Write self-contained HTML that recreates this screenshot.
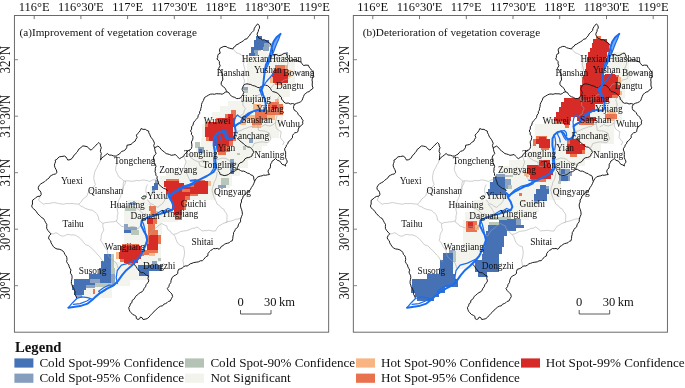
<!DOCTYPE html>
<html><head><meta charset="utf-8"><title>Hot spot analysis of vegetation coverage</title>
<style>html,body{margin:0;padding:0;background:#fff}body{width:685px;height:388px;overflow:hidden}svg{display:block}text{font-family:"Liberation Serif",serif;fill:#111}</style>
</head><body>
<svg width="685" height="388" viewBox="0 0 685 388">
<rect width="685" height="388" fill="#fff"/>
<g>
<g shape-rendering="crispEdges">
<rect x="262.0" y="53.0" width="28.0" height="4.0" fill="#f3f4ee"/>
<rect x="247.0" y="57.0" width="48.0" height="9.0" fill="#f3f4ee"/>
<rect x="246.5" y="66.0" width="48.5" height="18.0" fill="#f3f4ee"/>
<rect x="243.5" y="84.0" width="46.5" height="13.0" fill="#f3f4ee"/>
<rect x="241.0" y="97.0" width="43.0" height="4.0" fill="#f3f4ee"/>
<rect x="228.0" y="101.0" width="55.0" height="5.0" fill="#f3f4ee"/>
<rect x="220.0" y="106.0" width="63.0" height="6.0" fill="#f3f4ee"/>
<rect x="212.0" y="112.0" width="71.0" height="6.0" fill="#f3f4ee"/>
<rect x="204.0" y="118.0" width="79.0" height="6.0" fill="#f3f4ee"/>
<rect x="201.5" y="124.0" width="77.0" height="14.0" fill="#f3f4ee"/>
<rect x="201.0" y="138.0" width="66.0" height="8.0" fill="#f3f4ee"/>
<rect x="196.0" y="146.0" width="66.0" height="6.0" fill="#f3f4ee"/>
<rect x="190.0" y="152.0" width="64.0" height="8.0" fill="#f3f4ee"/>
<rect x="186.0" y="160.0" width="62.0" height="8.0" fill="#f3f4ee"/>
<rect x="183.0" y="168.0" width="57.0" height="8.0" fill="#f3f4ee"/>
<rect x="166.0" y="172.0" width="17.0" height="4.0" fill="#f3f4ee"/>
<rect x="160.0" y="176.0" width="72.0" height="5.0" fill="#f3f4ee"/>
<rect x="158.0" y="181.0" width="74.0" height="5.0" fill="#f3f4ee"/>
<rect x="150.0" y="186.0" width="66.0" height="14.0" fill="#f3f4ee"/>
<rect x="216.0" y="181.0" width="14.0" height="7.0" fill="#f3f4ee"/>
<rect x="128.0" y="200.0" width="62.0" height="6.0" fill="#f3f4ee"/>
<rect x="124.0" y="206.0" width="66.0" height="10.0" fill="#f3f4ee"/>
<rect x="124.0" y="216.0" width="54.0" height="6.0" fill="#f3f4ee"/>
<rect x="124.0" y="222.0" width="38.0" height="14.0" fill="#f3f4ee"/>
<rect x="124.0" y="236.0" width="37.0" height="26.0" fill="#f3f4ee"/>
<rect x="110.0" y="262.0" width="48.0" height="6.0" fill="#f3f4ee"/>
<rect x="112.0" y="268.0" width="38.0" height="12.0" fill="#f3f4ee"/>
<rect x="112.0" y="280.0" width="18.0" height="6.0" fill="#f3f4ee"/>
<rect x="84.0" y="286.0" width="28.0" height="12.0" fill="#f3f4ee"/>
<rect x="256.2" y="36.0" width="5.3" height="3.5" fill="#4672b5"/>
<rect x="253.6" y="39.5" width="14.9" height="3.9" fill="#4672b5"/>
<rect x="253.6" y="43.4" width="10.1" height="3.1" fill="#4672b5"/>
<rect x="263.7" y="43.4" width="5.3" height="3.1" fill="#8ba3c1"/>
<rect x="269.0" y="43.4" width="2.5" height="3.1" fill="#b9c7ba"/>
<rect x="251.4" y="46.5" width="11.8" height="3.0" fill="#4672b5"/>
<rect x="263.2" y="46.5" width="5.8" height="4.0" fill="#8ba3c1"/>
<rect x="251.4" y="49.5" width="6.1" height="3.5" fill="#4672b5"/>
<rect x="257.5" y="49.5" width="3.0" height="3.5" fill="#b9c7ba"/>
<rect x="249.2" y="53.0" width="5.7" height="3.0" fill="#4672b5"/>
<rect x="254.9" y="53.0" width="2.6" height="3.0" fill="#8ba3c1"/>
<rect x="257.5" y="50.5" width="10.5" height="5.5" fill="#f3f4ee"/>
<rect x="254.0" y="49.5" width="3.5" height="3.5" fill="#8ba3c1"/>
<rect x="285.5" y="51.7" width="2.9" height="3.0" fill="#8ba3c1"/>
<rect x="242.9" y="87.0" width="5.1" height="3.0" fill="#8ba3c1"/>
<rect x="244.0" y="90.0" width="4.0" height="3.0" fill="#b9c7ba"/>
<rect x="275.2" y="65.0" width="9.5" height="3.6" fill="#ea7450"/>
<rect x="284.7" y="65.0" width="2.8" height="3.6" fill="#f9b887"/>
<rect x="273.7" y="68.6" width="11.0" height="4.4" fill="#d62b27"/>
<rect x="284.7" y="68.6" width="3.0" height="4.4" fill="#ea7450"/>
<rect x="272.3" y="73.0" width="15.4" height="4.4" fill="#d62b27"/>
<rect x="273.0" y="77.4" width="14.7" height="5.2" fill="#d62b27"/>
<rect x="270.0" y="77.4" width="3.0" height="5.2" fill="#f9b887"/>
<rect x="274.5" y="82.6" width="7.5" height="1.9" fill="#ea7450"/>
<rect x="287.7" y="70.0" width="2.8" height="7.0" fill="#f9b887"/>
<rect x="275.3" y="99.4" width="3.7" height="4.4" fill="#f9b887"/>
<rect x="269.4" y="101.6" width="9.6" height="4.4" fill="#ea7450"/>
<rect x="253.3" y="103.8" width="7.3" height="5.9" fill="#f9b887"/>
<rect x="268.0" y="103.8" width="14.6" height="5.9" fill="#ea7450"/>
<rect x="254.7" y="109.7" width="27.9" height="5.1" fill="#ea7450"/>
<rect x="268.5" y="107.0" width="9.5" height="7.0" fill="#ea7450"/>
<rect x="271.5" y="104.5" width="5.9" height="4.5" fill="#d62b27"/>
<rect x="243.0" y="114.8" width="11.7" height="5.2" fill="#f9b887"/>
<rect x="254.7" y="114.8" width="11.8" height="5.2" fill="#ea7450"/>
<rect x="266.5" y="114.8" width="8.8" height="5.2" fill="#f9b887"/>
<rect x="240.0" y="120.0" width="6.0" height="5.1" fill="#f9b887"/>
<rect x="251.8" y="120.0" width="10.2" height="5.1" fill="#ea7450"/>
<rect x="251.8" y="125.1" width="8.7" height="2.9" fill="#f9b887"/>
<rect x="230.5" y="109.7" width="5.1" height="4.4" fill="#ea7450"/>
<rect x="225.4" y="114.1" width="10.2" height="4.4" fill="#ea7450"/>
<rect x="227.6" y="114.1" width="5.1" height="4.4" fill="#d62b27"/>
<rect x="216.0" y="117.8" width="2.0" height="4.4" fill="#ea7450"/>
<rect x="218.0" y="117.8" width="16.9" height="4.4" fill="#d62b27"/>
<rect x="207.5" y="122.2" width="27.4" height="4.4" fill="#d62b27"/>
<rect x="204.8" y="126.6" width="27.9" height="10.3" fill="#d62b27"/>
<rect x="209.2" y="136.9" width="23.5" height="4.4" fill="#d62b27"/>
<rect x="232.7" y="136.9" width="2.9" height="4.4" fill="#ea7450"/>
<rect x="213.6" y="141.3" width="15.4" height="5.1" fill="#d62b27"/>
<rect x="229.0" y="141.3" width="3.7" height="5.1" fill="#ea7450"/>
<rect x="216.6" y="146.4" width="8.8" height="5.6" fill="#d62b27"/>
<rect x="225.4" y="146.4" width="4.4" height="5.6" fill="#ea7450"/>
<rect x="218.0" y="152.0" width="8.0" height="3.0" fill="#ea7450"/>
<rect x="204.5" y="122.2" width="3.0" height="4.4" fill="#ea7450"/>
<rect x="206.2" y="136.9" width="3.0" height="4.4" fill="#ea7450"/>
<rect x="195.4" y="142.0" width="4.4" height="5.5" fill="#b9c7ba"/>
<rect x="197.6" y="146.7" width="5.9" height="5.9" fill="#8ba3c1"/>
<rect x="199.0" y="149.0" width="3.0" height="3.6" fill="#4672b5"/>
<rect x="249.0" y="138.0" width="4.4" height="5.0" fill="#8ba3c1"/>
<rect x="243.0" y="146.0" width="3.0" height="4.4" fill="#b9c7ba"/>
<rect x="237.3" y="152.6" width="2.9" height="2.2" fill="#b9c7ba"/>
<rect x="230.0" y="159.2" width="4.3" height="14.7" fill="#8ba3c1"/>
<rect x="230.7" y="162.2" width="2.9" height="4.4" fill="#4672b5"/>
<rect x="231.4" y="169.5" width="2.2" height="4.4" fill="#4672b5"/>
<rect x="221.0" y="178.3" width="7.5" height="6.7" fill="#b9c7ba"/>
<rect x="218.2" y="185.0" width="7.3" height="2.9" fill="#8ba3c1"/>
<rect x="166.2" y="179.2" width="12.5" height="4.2" fill="#ea7450"/>
<rect x="190.0" y="179.5" width="15.0" height="2.0" fill="#ea7450"/>
<rect x="193.5" y="181.2" width="14.0" height="6.1" fill="#d62b27"/>
<rect x="163.6" y="183.4" width="20.3" height="3.9" fill="#d62b27"/>
<rect x="164.2" y="181.0" width="14.4" height="2.4" fill="#d62b27"/>
<rect x="189.0" y="184.0" width="4.5" height="3.3" fill="#ea7450"/>
<rect x="165.5" y="187.3" width="42.0" height="6.2" fill="#d62b27"/>
<rect x="182.0" y="188.5" width="8.0" height="3.0" fill="#ea7450"/>
<rect x="169.0" y="193.5" width="21.0" height="2.5" fill="#d62b27"/>
<rect x="190.0" y="193.5" width="8.0" height="2.5" fill="#ea7450"/>
<rect x="170.0" y="196.0" width="14.5" height="3.5" fill="#d62b27"/>
<rect x="184.5" y="196.0" width="5.5" height="3.5" fill="#ea7450"/>
<rect x="171.0" y="199.5" width="12.8" height="3.2" fill="#d62b27"/>
<rect x="183.8" y="199.5" width="3.2" height="3.2" fill="#ea7450"/>
<rect x="172.0" y="202.7" width="11.5" height="7.5" fill="#d62b27"/>
<rect x="183.5" y="202.7" width="2.5" height="7.5" fill="#ea7450"/>
<rect x="173.7" y="210.2" width="8.3" height="5.1" fill="#d62b27"/>
<rect x="174.5" y="215.3" width="7.5" height="5.0" fill="#ea7450"/>
<rect x="208.0" y="181.0" width="2.5" height="5.0" fill="#f9b887"/>
<rect x="148.9" y="206.0" width="6.6" height="5.2" fill="#ea7450"/>
<rect x="149.6" y="211.2" width="8.1" height="4.4" fill="#f9b887"/>
<rect x="151.0" y="211.2" width="5.0" height="4.4" fill="#ea7450"/>
<rect x="147.4" y="217.8" width="5.9" height="6.6" fill="#d62b27"/>
<rect x="153.3" y="217.8" width="3.7" height="6.6" fill="#ea7450"/>
<rect x="148.1" y="224.4" width="6.6" height="5.8" fill="#ea7450"/>
<rect x="148.1" y="230.2" width="9.6" height="5.2" fill="#ea7450"/>
<rect x="148.9" y="235.4" width="9.5" height="8.1" fill="#d62b27"/>
<rect x="146.7" y="235.4" width="2.2" height="8.1" fill="#ea7450"/>
<rect x="158.4" y="235.4" width="2.2" height="8.1" fill="#ea7450"/>
<rect x="147.4" y="243.5" width="10.6" height="6.5" fill="#d62b27"/>
<rect x="144.0" y="250.0" width="7.0" height="4.5" fill="#ea7450"/>
<rect x="151.0" y="250.0" width="6.5" height="3.0" fill="#ea7450"/>
<rect x="149.0" y="253.0" width="6.0" height="3.0" fill="#f9b887"/>
<rect x="122.0" y="244.3" width="17.0" height="2.2" fill="#ea7450"/>
<rect x="119.5" y="246.3" width="21.5" height="5.5" fill="#d62b27"/>
<rect x="118.7" y="251.8" width="22.3" height="6.7" fill="#d62b27"/>
<rect x="116.0" y="251.8" width="2.7" height="6.7" fill="#f9b887"/>
<rect x="124.0" y="258.5" width="14.0" height="4.0" fill="#d62b27"/>
<rect x="120.0" y="258.5" width="4.0" height="3.5" fill="#ea7450"/>
<rect x="128.0" y="262.5" width="7.0" height="2.0" fill="#ea7450"/>
<rect x="141.0" y="251.8" width="2.5" height="4.2" fill="#ea7450"/>
<rect x="153.5" y="182.6" width="4.3" height="3.4" fill="#4672b5"/>
<rect x="151.9" y="186.0" width="5.9" height="3.5" fill="#4672b5"/>
<rect x="151.9" y="189.5" width="3.1" height="3.1" fill="#8ba3c1"/>
<rect x="155.0" y="179.5" width="3.0" height="3.1" fill="#8ba3c1"/>
<rect x="129.8" y="201.6" width="5.8" height="3.7" fill="#8ba3c1"/>
<rect x="125.4" y="207.5" width="11.0" height="3.7" fill="#b9c7ba"/>
<rect x="123.9" y="224.4" width="3.7" height="5.1" fill="#8ba3c1"/>
<rect x="127.6" y="226.6" width="9.5" height="6.6" fill="#8ba3c1"/>
<rect x="123.9" y="229.5" width="7.1" height="3.7" fill="#4672b5"/>
<rect x="130.5" y="229.5" width="8.1" height="5.9" fill="#b9c7ba"/>
<rect x="103.6" y="254.3" width="7.6" height="6.7" fill="#4672b5"/>
<rect x="111.2" y="254.3" width="2.8" height="6.7" fill="#b9c7ba"/>
<rect x="101.1" y="261.0" width="10.1" height="6.7" fill="#4672b5"/>
<rect x="111.2" y="261.0" width="2.8" height="6.7" fill="#b9c7ba"/>
<rect x="98.6" y="267.7" width="12.6" height="6.7" fill="#4672b5"/>
<rect x="111.2" y="267.7" width="4.2" height="6.7" fill="#b9c7ba"/>
<rect x="88.6" y="274.4" width="25.1" height="5.0" fill="#4672b5"/>
<rect x="73.5" y="279.4" width="40.2" height="5.9" fill="#4672b5"/>
<rect x="90.2" y="279.4" width="10.1" height="3.1" fill="#8ba3c1"/>
<rect x="110.5" y="274.4" width="4.5" height="10.9" fill="#8ba3c1"/>
<rect x="71.8" y="285.3" width="14.2" height="5.0" fill="#4672b5"/>
<rect x="86.0" y="285.3" width="9.0" height="2.7" fill="#8ba3c1"/>
<rect x="74.3" y="290.3" width="9.2" height="5.0" fill="#4672b5"/>
<rect x="76.0" y="295.3" width="6.0" height="2.7" fill="#8ba3c1"/>
<rect x="95.0" y="282.5" width="17.0" height="4.5" fill="#b9c7ba"/>
<rect x="92.6" y="288.5" width="2.4" height="5.0" fill="#ea7450"/>
<rect x="152.3" y="261.0" width="5.0" height="4.2" fill="#8ba3c1"/>
<rect x="138.0" y="265.2" width="23.5" height="5.8" fill="#4672b5"/>
<rect x="138.9" y="271.0" width="10.0" height="5.0" fill="#4672b5"/>
<rect x="158.0" y="258.0" width="3.0" height="3.0" fill="#b9c7ba"/>
</g>
<polyline points="100.5,160.1 99.6,162.8 98.0,165.2 96.9,167.7 95.5,170.1 94.6,172.7 94.0,175.6 93.8,178.6 94.4,181.6 95.4,184.5 93.8,186.8 92.0,189.0 88.7,191.7 87.6,193.7 87.1,195.9 85.0,197.5 82.9,199.2 81.1,202.0 78.7,204.2" fill="none" stroke="#a6a6a6" stroke-width="0.55"/>
<polyline points="116.4,156.0 116.6,158.5 117.2,161.0 117.2,163.5 116.2,165.6 115.7,167.9 115.6,170.2 116.7,172.4 117.7,174.7 118.9,176.9 121.6,178.8 123.9,181.1 126.4,180.8 128.9,180.9 131.5,181.3 134.0,181.1 136.6,180.4 139.4,180.8 142.0,180.0 144.7,180.1 147.4,180.7 150.0,181.5 152.2,180.1 154.8,179.7 157.0,178.4" fill="none" stroke="#a6a6a6" stroke-width="0.55"/>
<polyline points="40.1,195.9 39.6,198.1 38.4,200.1 40.9,202.2 43.5,204.2 45.9,203.5 48.5,203.6 51.0,203.1 53.5,202.6 56.0,202.9 58.5,203.5 61.1,203.9 63.6,204.2 66.4,203.5 69.2,203.7 72.0,203.4 74.2,203.8 76.5,204.0 78.7,204.2" fill="none" stroke="#a6a6a6" stroke-width="0.55"/>
<polyline points="78.7,204.2 80.7,206.0 83.2,207.0 85.4,208.4 87.6,209.2 89.8,209.8 92.1,210.1 94.8,212.0 97.1,214.3 98.4,217.1 98.8,220.2 100.8,221.9 103.0,223.5 105.4,222.6 108.0,222.3 110.5,221.9 113.5,221.8 116.4,221.0 117.3,218.6 117.2,215.9 118.1,213.5 117.4,210.7 117.2,207.9 117.2,205.1 118.4,203.1 118.5,200.7 119.5,198.7 120.6,196.7 121.1,194.1 122.3,191.7 122.3,189.0 123.1,186.4 123.2,183.7 123.9,181.1" fill="none" stroke="#a6a6a6" stroke-width="0.55"/>
<polyline points="103.0,223.5 102.8,225.8 103.2,228.0 103.8,230.2 102.3,232.6 101.3,235.3 101.2,237.8 100.5,240.3 102.3,242.7 103.8,245.3 105.3,248.0 107.2,250.4" fill="none" stroke="#a6a6a6" stroke-width="0.55"/>
<polyline points="51.0,233.9 53.6,233.7 56.0,232.7 58.0,233.7 59.8,235.2 61.9,236.1 64.2,236.0 66.3,234.8 68.6,234.4 70.8,235.0 73.1,234.8 75.3,235.3 78.0,236.7 80.4,238.6 82.6,241.0 84.5,243.6 86.3,245.0 88.6,245.6 90.4,247.0 92.0,248.8 93.8,250.2 95.4,252.0 98.0,255.0 99.8,256.8 101.0,259.0 104.0,262.0" fill="none" stroke="#a6a6a6" stroke-width="0.55"/>
<polyline points="161.7,223.5 164.2,224.9 166.8,226.0 167.2,228.2 168.4,230.2 170.4,231.2 171.5,233.3 173.5,234.4 176.1,233.9 178.5,232.7 180.9,231.4 183.5,231.0 185.8,230.8 188.0,230.2 190.2,229.4 192.3,228.3 194.8,228.2 196.9,226.9 199.5,228.8 202.0,231.0 204.2,230.7 206.5,230.6 208.7,230.2 210.9,230.7 213.1,231.0 215.4,231.0 216.9,228.4 218.7,226.0 220.9,224.9 223.0,223.5 225.4,222.7 228.1,221.6 231.0,221.0 233.8,220.1 235.9,219.2 238.2,218.9 240.5,218.5" fill="none" stroke="#a6a6a6" stroke-width="0.55"/>
<polyline points="217.0,171.8 216.9,174.9 216.2,178.0 215.3,180.3 214.0,182.5 213.6,185.0 212.6,187.5 212.0,190.0 212.8,193.0 213.5,196.0 214.5,198.4 216.0,201.2 217.1,204.2 219.5,205.6 221.3,207.9 223.8,209.2 224.7,211.3 226.2,213.0 227.1,215.1 227.0,217.3 226.9,219.6 227.1,221.8" fill="none" stroke="#a6a6a6" stroke-width="0.55"/>
<polyline points="173.5,234.4 175.1,236.7 176.0,239.4 177.0,242.0 178.6,244.2 180.9,245.8 183.6,246.7 184.0,248.9 184.4,251.1 184.5,253.4 184.2,255.7 183.8,258.0 182.8,260.1 183.3,262.3 183.6,264.5 183.6,266.8" fill="none" stroke="#a6a6a6" stroke-width="0.55"/>
<polyline points="232.8,49.0 234.6,50.6 236.0,52.5 238.5,53.5 241.0,54.5 242.7,56.3 244.5,58.0 244.4,61.1 243.5,64.0 244.2,67.0 245.0,70.0 243.6,72.9 243.0,76.0 243.7,78.5 244.5,81.0 243.7,85.1" fill="none" stroke="#a6a6a6" stroke-width="0.55"/>
<polyline points="272.9,54.8 275.0,58.5 278.0,58.8 281.0,58.2 283.7,57.7 286.5,57.4" fill="none" stroke="#a6a6a6" stroke-width="0.55"/>
<polyline points="287.6,57.6 287.5,60.3 288.0,63.0 287.3,65.6 286.0,68.0 287.1,70.5 289.0,72.5 292.0,73.0 295.0,73.5 297.3,72.9 299.7,72.6 302.0,72.0 305.1,72.4 308.0,73.5 310.6,74.0 313.1,75.0" fill="none" stroke="#a6a6a6" stroke-width="0.55"/>
<polyline points="270.5,88.6 272.2,86.3 274.0,84.0 276.5,83.9 279.0,83.5 281.6,81.8 284.0,80.0 286.6,79.4 289.0,78.5 289.4,75.5 289.0,72.5" fill="none" stroke="#a6a6a6" stroke-width="0.55"/>
<polyline points="241.5,96.5 242.0,100.0 242.9,102.5 242.9,105.2 245.4,108.5 244.2,110.9 243.7,113.6 241.7,114.9 240.0,116.5" fill="none" stroke="#a6a6a6" stroke-width="0.55"/>
<polyline points="262.3,93.8 260.2,94.6 258.0,95.0 255.8,97.3 253.0,99.0 249.9,99.8 247.0,101.0 244.4,100.8 242.0,100.0" fill="none" stroke="#a6a6a6" stroke-width="0.55"/>
<polyline points="280.0,96.0 278.2,97.8 277.0,100.0 278.0,102.4 278.5,105.0 277.6,107.7 276.0,110.0 276.9,112.9 277.0,116.0 276.3,118.2 275.7,120.5 275.5,122.9 275.7,126.0 276.8,128.8 278.9,130.4 281.2,131.7 280.7,134.6 280.4,137.6 282.1,139.9 284.1,142.0 282.6,145.0" fill="none" stroke="#a6a6a6" stroke-width="0.55"/>
<polyline points="276.0,110.0 272.9,110.2 270.0,111.0 266.0,109.5" fill="none" stroke="#a6a6a6" stroke-width="0.55"/>
<polyline points="275.5,122.9 272.9,124.7 270.0,126.0 267.4,125.6 265.0,124.5 263.1,125.8 261.0,127.0" fill="none" stroke="#a6a6a6" stroke-width="0.55"/>
<polyline points="236.5,131.5 239.3,131.0 242.0,130.0 244.4,128.7 247.0,128.0 249.6,126.9 252.5,126.5 255.0,124.9 257.7,123.6 257.7,125.8 258.4,128.0 258.4,130.2 260.6,130.8 262.8,130.8 265.0,131.0 267.2,132.1 269.4,133.2 270.0,136.1 270.9,139.0 269.4,140.8 268.0,142.7 265.5,142.4 263.1,141.9 260.6,142.0 258.4,142.3 256.2,143.0 254.0,143.5 253.0,146.2 251.2,148.5" fill="none" stroke="#a6a6a6" stroke-width="0.55"/>
<polyline points="199.0,162.0 201.2,161.4 203.0,160.0 205.2,161.2 207.0,163.0 205.7,164.9 205.0,167.0 202.5,166.5 200.0,166.0 199.0,162.0" fill="none" stroke="#a6a6a6" stroke-width="0.55"/>
<polyline points="216.2,160.0 219.1,159.0 222.0,158.0 225.1,158.4 228.0,159.5 230.2,161.6 233.0,163.0 235.8,163.8 238.6,164.4" fill="none" stroke="#a6a6a6" stroke-width="0.55"/>
<polyline points="186.8,152.6 188.7,154.6 190.0,157.0 192.5,158.8 195.0,160.5 199.0,162.0" fill="none" stroke="#a6a6a6" stroke-width="0.55"/>
<polyline points="183.8,156.2 184.9,159.1 186.0,162.0 184.9,165.0 184.0,168.0 185.2,169.9 185.6,172.2 187.0,174.0 187.9,176.2 188.9,178.3 190.2,180.3" fill="none" stroke="#a6a6a6" stroke-width="0.55"/>
<polyline points="125.6,181.0 125.0,183.9 123.5,186.5 123.3,189.2 122.3,191.7" fill="none" stroke="#a6a6a6" stroke-width="0.55"/>
<polyline points="147.5,184.5 146.2,187.4 145.8,190.6 146.2,192.8 146.7,195.0 145.1,196.6 143.2,197.7" fill="none" stroke="#a6a6a6" stroke-width="0.55"/>
<polyline points="147.5,199.4 148.9,201.8 151.0,203.8 153.5,204.7 155.5,206.4 158.0,207.3 160.1,205.4 162.4,203.8 163.9,201.7 165.0,199.4 165.8,196.8 166.8,194.2" fill="none" stroke="#a6a6a6" stroke-width="0.55"/>
<polyline points="149.3,203.8 151.0,206.0 152.8,208.2 154.0,210.4 155.4,212.5 152.8,216.0" fill="none" stroke="#a6a6a6" stroke-width="0.55"/>
<polyline points="117.2,205.1 119.6,205.3 121.7,206.5 124.0,207.0 126.3,206.7 128.6,205.9 131.0,206.0 133.5,206.6 135.5,208.4 138.0,209.0 139.7,210.4 141.5,211.9 143.0,213.5 142.4,215.7 141.8,218.0 141.8,220.3" fill="none" stroke="#a6a6a6" stroke-width="0.55"/>
<polyline points="116.4,221.0 117.6,223.0 119.7,224.2 121.0,226.0 124.0,227.0 127.0,228.0 129.9,226.9 133.0,226.5 135.7,227.3 138.0,229.0 139.2,226.9 141.0,225.3" fill="none" stroke="#a6a6a6" stroke-width="0.55"/>
<polyline points="107.2,250.4 107.8,253.2 108.5,256.0 110.3,258.2 112.5,260.0 116.0,262.5 117.2,265.2 118.0,268.0" fill="none" stroke="#a6a6a6" stroke-width="0.55"/>
<polyline points="161.7,223.5 159.8,224.7 158.0,226.0 155.6,228.2 153.0,230.0 151.5,231.9 150.1,233.8 149.0,236.0 146.0,235.0" fill="none" stroke="#a6a6a6" stroke-width="0.55"/>
<polyline points="227.1,221.8 225.4,222.7" fill="none" stroke="#a6a6a6" stroke-width="0.55"/>
<polyline points="257.6,23.9 259.3,25.5 259.6,28.1 258.5,29.6 258.3,31.4 257.4,33.0 257.1,34.8 258.0,36.4 258.8,38.1 260.7,38.6 262.2,39.8 264.7,39.8 267.2,41.5 269.7,43.1 271.4,45.7 271.8,47.6 272.3,49.5 272.6,51.3 272.3,53.1 272.9,54.8 276.0,54.4 278.6,55.7 281.2,55.2 283.9,53.5 285.6,53.0 286.9,54.8 287.6,57.6 289.0,59.4 290.0,61.4 291.5,60.5 293.0,59.6 294.7,59.9 296.5,59.9 298.3,61.4 300.6,61.8 302.0,63.7 303.5,65.5 306.0,65.1 308.5,65.3 309.1,67.1 310.4,68.6 311.6,70.3 313.1,71.7 313.5,74.0 313.2,76.4 312.4,78.2 312.0,80.0 312.4,82.0 312.2,84.0 312.3,86.0 313.1,87.9 312.1,89.3 310.4,90.1 309.4,91.6 307.4,92.1 305.9,93.3 304.3,94.5 303.6,96.4 302.8,98.2 302.2,100.3 300.6,101.8 298.7,102.7 296.6,103.3 294.7,104.3 293.6,106.3 293.6,108.5 294.4,110.3 296.2,111.3 297.5,112.7 298.3,114.7 299.9,116.1 301.3,117.3 301.8,119.2 303.2,120.3 302.6,121.9 302.8,123.8 301.6,125.3 299.2,127.0 298.3,129.2 298.0,131.5 296.6,132.5 294.8,132.8 293.5,134.0 292.5,135.6 292.5,137.8 291.0,139.2 289.9,140.7 288.3,141.8 287.8,143.8 286.4,145.1 286.1,146.8 284.8,148.3 284.7,150.1 285.6,152.1 285.6,154.3 285.6,157.7 286.3,159.4 287.2,161.0 287.0,162.8 285.5,164.2 285.6,166.1 284.1,164.9 282.2,164.4 280.9,162.7 279.7,161.0 277.3,160.3 275.5,158.5 274.0,160.0 272.2,161.0 271.6,162.7 270.5,164.2 270.5,166.1 270.2,168.0 268.8,169.4 268.0,171.1 268.5,172.9 269.6,174.5 267.5,174.8 265.5,175.3 263.7,175.1 262.1,175.8 260.4,176.1 258.0,176.8 256.2,178.6 255.2,180.2 254.4,181.9 253.7,183.7 252.7,185.7 251.4,187.5 250.4,189.5 249.2,190.8 247.7,191.8 246.5,193.0 245.0,194.7 243.2,196.0 242.7,198.2 241.4,200.0 241.5,202.0 240.6,203.9 240.5,205.9 240.9,207.9 241.7,209.8 242.2,211.8 242.4,214.4 241.4,216.8 240.6,219.2 240.5,221.8 239.2,223.3 238.3,224.9 238.0,226.9 236.5,228.0 235.4,229.3 234.7,231.0 233.6,232.5 233.5,234.4 233.0,236.1 232.8,238.5 232.3,240.8 230.6,241.3 229.3,242.7 227.6,243.2 225.9,243.6 224.3,244.4 223.0,245.6 221.3,246.4 220.4,248.0 219.2,249.3 217.4,248.4 215.5,248.7 213.6,248.5 212.3,249.6 210.7,250.4 209.5,251.6 208.0,253.5 207.8,255.9 206.1,256.6 204.9,257.9 203.8,259.3 202.4,260.7 200.3,260.8 198.7,261.8 196.2,262.2 193.7,262.6 192.0,263.3 190.2,263.8 188.7,265.1 187.1,266.0 185.2,265.9 183.6,266.8 182.2,268.1 180.4,268.8 178.6,269.3 177.8,271.3 177.8,273.5 175.8,275.0 173.6,276.0 172.0,277.9 171.1,280.2 170.8,282.5 169.4,284.4 168.8,286.7 167.3,288.5 168.5,290.6 170.2,292.3 172.0,294.1 172.6,296.6 171.3,298.8 170.2,301.0 168.4,301.4 167.1,302.7 165.6,303.6 163.8,304.2 162.6,305.9 160.6,306.1 158.8,307.2 157.2,308.6 155.4,310.1 153.9,311.9 152.1,313.5 150.5,315.3 149.0,317.1 147.2,318.6 145.1,319.2 143.0,319.5 142.2,317.8 140.5,317.0 139.7,318.7 138.0,319.5 136.3,318.5 136.2,316.3 134.6,315.3 132.6,314.4 131.2,312.8 129.9,311.3 129.2,309.6 128.7,307.7 129.9,305.8 130.4,303.6 132.0,302.6 132.1,300.4 133.8,299.4 134.8,297.9 135.6,296.3 137.1,295.2 138.6,293.8 140.2,292.6 142.1,291.8 143.4,290.2 144.2,288.3 145.5,286.8 146.2,284.6 147.7,282.9 148.8,280.9 148.0,278.4 148.5,275.9 146.5,275.3 145.0,273.8 143.4,272.6 141.4,272.7 139.7,271.6 138.5,270.0 137.2,268.5 136.3,266.9 135.3,265.4 133.8,264.3" fill="none" stroke="#1c1c1c" stroke-width="1.0" stroke-linejoin="round"/>
<polyline points="76.8,298.5 75.9,296.0 74.8,294.2 75.2,291.9 74.2,290.1 73.8,288.3 72.5,286.9 72.1,285.1 71.4,283.4 71.4,281.3 71.8,279.3 72.1,277.3 71.8,275.2 70.8,273.7 70.3,272.0 71.0,270.1 70.1,268.5 69.2,266.9 68.8,265.0 67.6,263.5 66.6,261.6 67.0,259.6 66.8,257.6 66.2,255.8 64.7,254.4 64.2,252.6 62.9,251.0 61.2,249.9 59.2,249.2 57.0,249.0 55.1,248.1 53.4,246.7 52.2,244.7 51.0,242.8 50.7,240.9 49.2,239.5 48.5,237.8 49.4,235.6 51.0,233.9 49.3,232.1 47.7,230.2 46.7,228.4 46.7,226.4 46.8,224.4 45.6,222.5 44.6,220.5 43.5,218.5 41.9,217.7 40.5,216.5 39.3,215.1 37.6,213.7 36.5,211.8 35.1,210.1 33.7,208.9 32.3,207.7 31.7,205.9 32.5,204.0 32.4,202.0 32.6,200.1 34.4,199.0 35.9,197.5 37.9,196.4 40.1,196.2 41.2,194.7 41.0,192.8 40.1,190.8 38.4,189.5 38.3,187.3 39.3,185.3 40.8,183.9 42.6,182.8 44.5,181.8 46.0,180.3 47.6,179.1 49.2,177.9 50.2,176.1 51.8,175.2 53.5,174.4 55.4,174.0 56.9,172.7 56.7,171.0 56.0,169.4 54.9,167.4 54.4,165.2 54.8,163.5 55.5,161.9 55.2,160.1 56.9,159.4 58.0,157.9 59.4,156.8 61.9,156.5 64.4,156.0 66.0,157.0 66.9,158.5 67.8,160.1 70.0,159.7 72.0,158.5 73.0,157.0 73.8,155.4 75.3,154.3 76.5,152.6 77.8,151.1 78.7,149.2 80.3,148.3 81.4,146.9 82.9,145.9 85.0,146.2 87.1,146.7 88.5,147.8 89.6,149.3 91.2,150.1 92.9,148.4 94.6,146.7 95.9,145.2 97.4,143.9 98.8,142.5 100.2,143.9 100.5,145.9 101.3,147.7 100.6,149.7 100.4,151.6 101.3,153.4 100.9,155.6 100.9,157.9 100.5,160.1 101.7,158.0 103.6,156.6 105.5,155.1 107.4,153.5 109.2,155.0 111.6,155.2 113.8,156.0 116.2,156.1 117.6,155.0 119.3,154.2 120.4,152.7 121.8,151.4 123.7,150.8 125.3,149.8 126.7,147.7 127.0,145.2 129.0,144.9 131.0,144.4 132.4,143.3 133.6,141.9 135.2,141.1 135.9,139.2 137.1,137.5 136.4,135.2 137.7,133.5 139.2,132.1 140.3,130.4 141.1,128.5 143.1,129.4 145.3,129.3 146.8,130.4 148.6,131.0 148.8,132.8 149.7,134.3 150.3,136.0 151.3,137.7 152.6,139.3 153.6,141.1 154.5,143.3 153.7,145.6 154.5,147.8 156.2,147.0 157.8,146.1 159.8,147.5 161.2,149.5 162.9,150.9 164.5,152.2 166.2,153.6 167.9,154.0 169.6,154.5 171.2,155.3 173.3,155.0 175.4,154.5 176.7,156.0 178.1,157.4 179.6,158.7 181.7,157.4 183.8,156.2 184.4,154.4 185.8,153.2 187.2,152.0 188.3,150.5 190.1,149.8 191.4,148.6 191.9,146.4 191.8,144.1 191.4,141.9 192.6,139.9 193.0,137.7 192.8,135.9 191.4,134.5 191.6,132.5 190.5,131.0 191.6,129.1 191.6,126.8 193.0,125.1 193.5,122.8 194.7,120.9 196.4,119.3 197.8,117.5 198.3,115.2 199.7,113.4 199.6,111.6 200.7,110.1 200.8,108.3 201.4,106.7 201.5,104.4 202.3,102.4 203.4,100.5 204.5,97.5 206.6,96.3 208.7,95.0 210.5,94.2 212.4,94.0 214.4,94.3 216.2,93.7 218.2,93.8 220.2,93.8 222.1,94.2 223.8,93.4 225.2,92.1 227.1,91.9 226.1,90.2 225.3,88.4 223.8,87.1 222.2,85.9 221.1,84.2 221.4,81.9 222.8,80.0 222.6,76.7 222.6,74.2 221.5,72.0 220.1,70.1 218.6,68.3 220.2,65.8 219.4,63.8 219.4,61.6 218.3,60.2 216.9,59.1 217.7,57.5 217.7,55.7 218.5,54.0 220.2,53.2 219.4,49.9 220.2,48.1 221.9,47.3 223.9,46.4 226.1,46.5 227.7,47.6 229.5,48.2 232.8,49.0 233.6,47.3 235.3,46.4 236.2,44.8 238.0,44.2 239.5,43.1 241.6,41.9 243.7,40.6 244.9,39.2 246.9,38.9 247.9,37.3 249.5,35.8 250.4,33.9 252.1,32.3 253.8,30.6 254.3,28.4 255.5,26.4 257.6,23.9" fill="none" stroke="#1c1c1c" stroke-width="1.0" stroke-linejoin="round"/>
<polyline points="294.7,104.3 292.5,103.5 290.3,104.0 288.2,103.0 285.9,103.3 284.0,102.3 283.0,100.4 281.5,99.3 281.4,97.2 280.0,96.0 278.8,94.3 277.1,93.0 275.0,92.1 272.7,91.6 271.4,90.3 270.5,88.6 269.2,87.0 267.6,85.7 265.8,85.2 263.9,85.0 261.7,86.2 259.6,87.6 257.8,87.5 256.2,86.6 254.6,85.9 252.6,85.5 250.8,84.5 248.8,84.2 247.0,83.8 245.3,84.2 243.7,85.1 242.8,87.1 242.0,89.2 242.9,90.9 243.7,92.6 242.9,94.7 241.5,96.5 240.5,98.0 238.7,98.5 236.6,98.6 234.8,97.4 232.8,96.8 231.2,95.8 229.8,94.5 228.9,92.7 227.1,91.9" fill="none" stroke="#1c1c1c" stroke-width="1.0" stroke-linejoin="round"/>
<polyline points="237.0,138.4 238.6,139.3 239.7,140.7 241.1,141.8 242.9,143.1 244.4,144.7 246.2,146.0 247.8,147.0 249.8,147.1 251.2,148.5 253.0,150.3 253.7,152.7 252.4,154.1 252.0,156.0 250.4,156.9 248.8,157.5 247.0,157.7 244.9,158.9 243.7,161.0 242.0,162.2 240.0,162.9 238.6,164.4 238.1,166.1 237.3,167.7 237.0,169.4 238.8,169.4 240.3,170.4 241.9,171.2 243.7,171.1 245.6,172.0 247.4,173.1 249.5,173.6 250.7,174.9 252.7,175.4 253.7,177.0 253.8,179.2 254.6,181.2" fill="none" stroke="#1c1c1c" stroke-width="1.0" stroke-linejoin="round"/>
<polyline points="237.0,169.4 235.5,170.6 233.8,171.6 231.9,171.9 230.0,173.2 228.3,174.6 226.1,175.3 224.1,175.6 222.1,174.9 220.2,174.5 219.5,172.1 217.7,170.3" fill="none" stroke="#1c1c1c" stroke-width="1.0" stroke-linejoin="round"/>
<polyline points="154.5,147.8 154.9,149.8 155.3,151.8 156.2,153.6 154.6,155.0 153.6,157.0 153.4,159.0 154.1,160.8 154.3,162.8 155.3,164.5 156.0,166.3 155.3,168.2 155.3,170.0 155.0,171.8 155.8,173.4 155.8,175.2 157.2,176.6 157.0,178.4 157.6,180.3 158.4,182.2 158.6,184.2 160.2,185.6 161.9,187.1 163.6,188.4 166.1,189.1 167.8,191.0" fill="none" stroke="#1c1c1c" stroke-width="1.0" stroke-linejoin="round"/>
<polyline points="141.5,197.8 143.0,196.2 145.5,195.9 146.3,197.2 144.5,198.8 142.5,199.0 141.5,197.8" fill="none" stroke="#1c1c1c" stroke-width="1.0" stroke-linejoin="round"/>
<polygon points="280.5,33.9 276.5,37.2 273.5,41.8 271.7,47.5 270.4,53.6 268.5,59.8 266.0,64.5 265.0,69.0 265.8,69.5 268.0,65.0 269.8,60.5 271.6,56.3 273.5,51.9 275.2,47.5 277.0,43.1 278.9,38.8 280.5,33.9" fill="#1a6df0" fill-opacity="0.6"/>
<polyline points="280.5,33.9 276.5,37.2 273.5,41.8 271.7,47.5 270.4,53.6 268.5,59.8 266.0,64.5 265.0,69.0 264.0,77.5 263.0,86.3 261.6,90.0 263.2,95.0 264.8,99.4 265.7,103.8 265.7,108.1 264.3,110.6 261.0,110.4 258.3,109.8 253.0,111.4 248.6,113.4 245.1,116.0 242.5,118.3 240.9,122.4 237.4,124.2 234.8,126.4 235.6,130.8 235.2,135.1 233.0,138.2 229.5,139.5 226.9,136.9 225.1,133.4 222.5,131.2 219.0,132.1 215.5,135.1 213.8,138.6 213.7,145.3 214.5,150.0 215.3,155.0 215.3,160.1 216.2,167.7 213.6,171.9 206.9,176.0 198.6,180.2 190.2,184.4 181.8,188.6 177.1,191.0 172.0,194.3 169.2,197.5 172.0,201.9 173.7,206.9 172.0,210.2 167.0,211.9 160.3,213.9 153.6,215.6 146.9,217.8 141.8,220.3 141.0,225.3 143.5,230.4 146.0,235.0 147.2,240.0 145.6,245.1 143.0,250.9 140.5,256.0 136.3,261.0 131.3,266.0 126.3,270.2 122.1,275.2 117.9,281.1 113.7,285.3 107.0,288.6 100.3,292.8 95.3,297.0 92.7,299.4 87.7,303.6 80.1,306.1 73.4,306.9 68.4,307.7" fill="none" stroke="#1a6df0" stroke-width="2.0" stroke-linejoin="round" stroke-linecap="round"/>
<polyline points="280.5,33.9 278.9,38.8 277.0,43.1 275.2,47.5 273.5,51.9 271.6,56.3 269.8,60.5 268.0,65.0 265.8,69.5" fill="none" stroke="#1a6df0" stroke-width="1.25" stroke-linejoin="round" stroke-linecap="round"/>
<polyline points="269.0,60.0 268.0,64.0" fill="none" stroke="#1a6df0" stroke-width="1.25" stroke-linejoin="round" stroke-linecap="round"/>
<polyline points="273.5,73.1 270.0,77.5 266.5,81.5 263.6,85.5" fill="none" stroke="#1a6df0" stroke-width="1.25" stroke-linejoin="round" stroke-linecap="round"/>
<polyline points="263.0,86.3 260.2,87.5 259.6,90.5 262.0,92.0" fill="none" stroke="#1a6df0" stroke-width="1.25" stroke-linejoin="round" stroke-linecap="round"/>
<polyline points="261.7,87.2 260.2,91.0 262.0,96.0" fill="none" stroke="#1a6df0" stroke-width="1.25" stroke-linejoin="round" stroke-linecap="round"/>
<polyline points="242.5,118.3 239.6,116.8 237.4,115.0 235.2,117.6 234.3,122.0 234.8,126.4" fill="none" stroke="#1a6df0" stroke-width="1.25" stroke-linejoin="round" stroke-linecap="round"/>
<polyline points="247.9,115.4 244.4,119.4 240.9,122.4 237.4,124.2 234.8,125.5" fill="none" stroke="#1a6df0" stroke-width="1.25" stroke-linejoin="round" stroke-linecap="round"/>
<polyline points="252.3,111.9 247.9,115.4" fill="none" stroke="#1a6df0" stroke-width="1.25" stroke-linejoin="round" stroke-linecap="round"/>
<polyline points="222.5,131.2 223.8,134.3 225.6,137.8 227.5,140.0" fill="none" stroke="#1a6df0" stroke-width="1.25" stroke-linejoin="round" stroke-linecap="round"/>
<polyline points="219.0,132.1 219.0,134.5 220.8,138.2 221.6,142.0" fill="none" stroke="#1a6df0" stroke-width="1.25" stroke-linejoin="round" stroke-linecap="round"/>
<polyline points="215.5,135.1 216.5,138.5 217.0,143.0 216.0,150.0" fill="none" stroke="#1a6df0" stroke-width="1.25" stroke-linejoin="round" stroke-linecap="round"/>
<polyline points="222.5,131.2 225.5,130.5 227.5,132.5 228.0,136.0" fill="none" stroke="#1a6df0" stroke-width="1.25" stroke-linejoin="round" stroke-linecap="round"/>
<polyline points="215.3,153.4 213.8,160.0 214.6,167.0 211.0,172.5" fill="none" stroke="#1a6df0" stroke-width="1.25" stroke-linejoin="round" stroke-linecap="round"/>
<polyline points="198.6,180.2 190.2,180.3 196.0,179.9 194.4,183.6 189.3,186.1 184.0,186.5" fill="none" stroke="#1a6df0" stroke-width="1.25" stroke-linejoin="round" stroke-linecap="round"/>
<polyline points="190.2,184.4 183.0,186.0 176.0,190.0 168.7,196.8 167.8,192.6 170.0,195.0" fill="none" stroke="#1a6df0" stroke-width="1.25" stroke-linejoin="round" stroke-linecap="round"/>
<polyline points="172.0,210.2 168.0,208.5 164.0,211.0 160.3,213.9" fill="none" stroke="#1a6df0" stroke-width="1.25" stroke-linejoin="round" stroke-linecap="round"/>
<polyline points="167.0,211.9 162.0,210.5 157.0,213.5 153.6,215.6" fill="none" stroke="#1a6df0" stroke-width="1.25" stroke-linejoin="round" stroke-linecap="round"/>
<polyline points="141.8,220.3 143.5,224.0 144.8,229.0 146.0,235.0" fill="none" stroke="#1a6df0" stroke-width="1.25" stroke-linejoin="round" stroke-linecap="round"/>
<polyline points="137.5,259.0 128.7,263.1 121.4,265.2 117.3,270.5 116.2,277.5 117.3,283.5" fill="none" stroke="#1a6df0" stroke-width="1.25" stroke-linejoin="round" stroke-linecap="round"/>
<polyline points="113.7,285.3 109.0,285.0 103.6,287.8 98.6,291.2 100.3,292.8" fill="none" stroke="#1a6df0" stroke-width="1.25" stroke-linejoin="round" stroke-linecap="round"/>
<polyline points="107.0,288.6 104.0,291.0 98.0,294.5 95.3,297.0" fill="none" stroke="#1a6df0" stroke-width="1.25" stroke-linejoin="round" stroke-linecap="round"/>
<polyline points="68.4,307.7 72.6,302.7 76.8,298.5 81.8,296.9 87.7,297.7 92.7,299.4" fill="none" stroke="#1a6df0" stroke-width="1.25" stroke-linejoin="round" stroke-linecap="round"/>
<polyline points="73.4,304.4 80.1,303.6 86.8,301.0 90.0,299.0" fill="none" stroke="#1a6df0" stroke-width="1.25" stroke-linejoin="round" stroke-linecap="round"/>
<text x="241.7" y="61.6" font-size="9.4">Hexian</text>
<text x="269.2" y="62.2" font-size="9.4">Huashan</text>
<text x="216.8" y="75.6" font-size="9.4">Hanshan</text>
<text x="254.1" y="73.1" font-size="9.4">Yushan</text>
<text x="283.2" y="75.5" font-size="9.4">Bowang</text>
<text x="276.1" y="89.4" font-size="9.4">Dangtu</text>
<text x="241.3" y="101.6" font-size="9.4">Jiujiang</text>
<text x="256.4" y="112.0" font-size="9.4">Yijiang</text>
<text x="203.8" y="123.5" font-size="9.4">Wuwei</text>
<text x="241.4" y="123.3" font-size="9.4">Sanshan</text>
<text x="277.3" y="126.5" font-size="9.4">Wuhu</text>
<text x="232.8" y="138.8" font-size="9.4">Fanchang</text>
<text x="217.6" y="151.0" font-size="9.4">Yian</text>
<text x="254.2" y="157.5" font-size="9.4">Nanling</text>
<text x="183.9" y="157.1" font-size="9.4">Tongling</text>
<text x="202.7" y="167.7" font-size="9.4">Tongling</text>
<text x="159.2" y="172.7" font-size="9.4">Zongyang</text>
<text x="214.0" y="195.3" font-size="9.4">Qingyang</text>
<text x="180.8" y="206.5" font-size="9.4">Guichi</text>
<text x="147.0" y="198.5" font-size="9.4">Yixiu</text>
<text x="109.9" y="207.9" font-size="9.4">Huaining</text>
<text x="130.6" y="218.6" font-size="9.4">Daguan</text>
<text x="161.3" y="217.0" font-size="9.4">Yingjiang</text>
<text x="61.1" y="183.6" font-size="9.4">Yuexi</text>
<text x="87.9" y="193.7" font-size="9.4">Qianshan</text>
<text x="114.0" y="163.5" font-size="9.4">Tongcheng</text>
<text x="62.6" y="226.5" font-size="9.4">Taihu</text>
<text x="104.8" y="250.4" font-size="9.4">Wangjiang</text>
<text x="78.8" y="273.6" font-size="9.4">Susong</text>
<text x="143.0" y="269.4" font-size="9.4">Dongzhi</text>
<text x="191.6" y="244.5" font-size="9.4">Shitai</text>
<rect x="14.45" y="15.5" width="314.2" height="316.7" fill="none" stroke="#6a6a6a" stroke-width="1"/>
<line x1="34.2" y1="15.5" x2="34.2" y2="19.1" stroke="#666" stroke-width="0.9"/>
<text x="34.2" y="11.2" font-size="12.5" text-anchor="middle">116°E</text>
<line x1="80.9" y1="15.5" x2="80.9" y2="19.1" stroke="#666" stroke-width="0.9"/>
<text x="80.9" y="11.2" font-size="12.5" text-anchor="middle">116°30'E</text>
<line x1="127.6" y1="15.5" x2="127.6" y2="19.1" stroke="#666" stroke-width="0.9"/>
<text x="127.6" y="11.2" font-size="12.5" text-anchor="middle">117°E</text>
<line x1="174.3" y1="15.5" x2="174.3" y2="19.1" stroke="#666" stroke-width="0.9"/>
<text x="174.3" y="11.2" font-size="12.5" text-anchor="middle">117°30'E</text>
<line x1="221.0" y1="15.5" x2="221.0" y2="19.1" stroke="#666" stroke-width="0.9"/>
<text x="221.0" y="11.2" font-size="12.5" text-anchor="middle">118°E</text>
<line x1="267.7" y1="15.5" x2="267.7" y2="19.1" stroke="#666" stroke-width="0.9"/>
<text x="267.7" y="11.2" font-size="12.5" text-anchor="middle">118°30'E</text>
<line x1="314.4" y1="15.5" x2="314.4" y2="19.1" stroke="#666" stroke-width="0.9"/>
<text x="314.4" y="11.2" font-size="12.5" text-anchor="middle">119°E</text>
<line x1="14.45" y1="59.7" x2="18.05" y2="59.7" stroke="#777" stroke-width="0.9"/>
<text transform="translate(10.4,59.7) rotate(-90) scale(1,1.04)" font-size="13" text-anchor="middle">32°N</text>
<line x1="14.45" y1="116.2" x2="18.05" y2="116.2" stroke="#777" stroke-width="0.9"/>
<text transform="translate(10.4,116.2) rotate(-90) scale(1,1.04)" font-size="13" text-anchor="middle">31°30'N</text>
<line x1="14.45" y1="172.7" x2="18.05" y2="172.7" stroke="#777" stroke-width="0.9"/>
<text transform="translate(10.4,172.7) rotate(-90) scale(1,1.04)" font-size="13" text-anchor="middle">31°N</text>
<line x1="14.45" y1="229.2" x2="18.05" y2="229.2" stroke="#777" stroke-width="0.9"/>
<text transform="translate(10.4,229.2) rotate(-90) scale(1,1.04)" font-size="13" text-anchor="middle">30°30'N</text>
<line x1="14.45" y1="285.7" x2="18.05" y2="285.7" stroke="#777" stroke-width="0.9"/>
<text transform="translate(10.4,285.7) rotate(-90) scale(1,1.04)" font-size="13" text-anchor="middle">30°N</text>
<text x="19.5" y="36.2" font-size="11.2">(a)Improvement of vegetation coverage</text>
<polyline points="240.5,310 240.5,314 271.0,314 271.0,310" fill="none" stroke="#333" stroke-width="0.8"/>
<text x="240.5" y="306" font-size="12.5" text-anchor="middle">0</text>
<text x="264.0" y="306" font-size="12.5">30</text>
<text x="279.0" y="306" font-size="12.5">km</text>
</g>
<g>
<g shape-rendering="crispEdges">
<rect x="607.3" y="52.0" width="19.1" height="6.0" fill="#f3f4ee"/>
<rect x="604.7" y="58.0" width="24.0" height="12.0" fill="#f3f4ee"/>
<rect x="617.7" y="70.0" width="13.0" height="14.0" fill="#f3f4ee"/>
<rect x="581.2" y="62.0" width="5.5" height="8.0" fill="#f3f4ee"/>
<rect x="618.2" y="84.0" width="6.5" height="14.0" fill="#f3f4ee"/>
<rect x="600.7" y="98.0" width="22.0" height="8.0" fill="#f3f4ee"/>
<rect x="590.7" y="106.0" width="31.0" height="8.0" fill="#f3f4ee"/>
<rect x="588.7" y="114.0" width="33.0" height="10.0" fill="#f3f4ee"/>
<rect x="534.7" y="124.0" width="79.5" height="20.0" fill="#f3f4ee"/>
<rect x="543.7" y="118.0" width="27.0" height="6.0" fill="#f3f4ee"/>
<rect x="531.7" y="144.0" width="69.0" height="8.0" fill="#f3f4ee"/>
<rect x="526.7" y="152.0" width="64.0" height="8.0" fill="#f3f4ee"/>
<rect x="508.7" y="160.0" width="76.0" height="6.0" fill="#f3f4ee"/>
<rect x="498.7" y="166.0" width="68.0" height="16.0" fill="#f3f4ee"/>
<rect x="488.7" y="182.0" width="72.0" height="18.0" fill="#f3f4ee"/>
<rect x="473.7" y="200.0" width="65.0" height="12.0" fill="#f3f4ee"/>
<rect x="464.7" y="212.0" width="64.0" height="8.0" fill="#f3f4ee"/>
<rect x="462.7" y="220.0" width="26.0" height="16.0" fill="#f3f4ee"/>
<rect x="462.7" y="236.0" width="23.0" height="26.0" fill="#f3f4ee"/>
<rect x="453.4" y="250.0" width="23.3" height="19.0" fill="#f3f4ee"/>
<rect x="595.5" y="36.0" width="5.2" height="3.7" fill="#ea7450"/>
<rect x="592.6" y="39.0" width="14.7" height="4.4" fill="#d62b27"/>
<rect x="591.9" y="43.4" width="16.8" height="4.4" fill="#d62b27"/>
<rect x="590.4" y="47.8" width="18.5" height="4.4" fill="#d62b27"/>
<rect x="588.2" y="52.2" width="18.7" height="4.4" fill="#d62b27"/>
<rect x="586.7" y="56.6" width="18.8" height="6.6" fill="#d62b27"/>
<rect x="586.0" y="63.2" width="17.9" height="5.8" fill="#d62b27"/>
<rect x="585.3" y="69.0" width="17.6" height="6.0" fill="#d62b27"/>
<rect x="604.7" y="73.5" width="10.0" height="1.5" fill="#d62b27"/>
<rect x="583.1" y="75.0" width="33.0" height="2.3" fill="#d62b27"/>
<rect x="616.1" y="75.0" width="2.9" height="2.3" fill="#ea7450"/>
<rect x="582.1" y="77.3" width="36.1" height="7.4" fill="#d62b27"/>
<rect x="618.2" y="77.3" width="2.5" height="7.4" fill="#f9b887"/>
<rect x="579.9" y="84.7" width="39.8" height="9.8" fill="#d62b27"/>
<rect x="579.9" y="94.5" width="31.8" height="3.4" fill="#d62b27"/>
<rect x="611.7" y="94.5" width="6.0" height="3.5" fill="#ea7450"/>
<rect x="619.7" y="91.0" width="2.0" height="3.5" fill="#f9b887"/>
<rect x="563.8" y="97.9" width="45.5" height="3.7" fill="#d62b27"/>
<rect x="560.9" y="101.6" width="33.8" height="5.1" fill="#d62b27"/>
<rect x="594.7" y="101.6" width="8.7" height="1.9" fill="#d62b27"/>
<rect x="558.7" y="106.7" width="35.9" height="5.2" fill="#d62b27"/>
<rect x="556.4" y="111.9" width="33.3" height="5.1" fill="#d62b27"/>
<rect x="553.5" y="117.0" width="17.9" height="4.4" fill="#d62b27"/>
<rect x="577.3" y="117.0" width="19.1" height="4.4" fill="#d62b27"/>
<rect x="564.1" y="121.4" width="5.8" height="4.0" fill="#d62b27"/>
<rect x="578.7" y="121.4" width="15.0" height="4.0" fill="#ea7450"/>
<rect x="564.7" y="125.4" width="4.0" height="2.6" fill="#ea7450"/>
<rect x="554.7" y="121.4" width="9.4" height="2.6" fill="#ea7450"/>
<rect x="604.9" y="114.0" width="11.8" height="4.5" fill="#ea7450"/>
<rect x="606.7" y="112.0" width="8.0" height="2.0" fill="#f9b887"/>
<rect x="606.7" y="118.5" width="7.0" height="2.0" fill="#f9b887"/>
<rect x="536.3" y="135.5" width="11.0" height="3.7" fill="#ea7450"/>
<rect x="538.7" y="136.5" width="7.0" height="2.7" fill="#d62b27"/>
<rect x="535.5" y="139.2" width="14.7" height="5.2" fill="#d62b27"/>
<rect x="538.5" y="144.4" width="11.7" height="3.6" fill="#d62b27"/>
<rect x="541.4" y="148.0" width="7.3" height="2.3" fill="#ea7450"/>
<rect x="533.2" y="139.2" width="2.3" height="6.8" fill="#ea7450"/>
<rect x="569.7" y="139.0" width="10.0" height="4.5" fill="#d62b27"/>
<rect x="566.7" y="143.5" width="18.5" height="6.0" fill="#d62b27"/>
<rect x="566.2" y="149.5" width="15.5" height="4.3" fill="#d62b27"/>
<rect x="569.7" y="153.8" width="7.0" height="3.0" fill="#ea7450"/>
<rect x="581.7" y="149.5" width="3.0" height="4.3" fill="#ea7450"/>
<rect x="567.2" y="139.0" width="2.5" height="4.5" fill="#ea7450"/>
<rect x="538.5" y="159.8" width="4.4" height="3.7" fill="#ea7450"/>
<rect x="538.7" y="160.3" width="11.0" height="4.4" fill="#d62b27"/>
<rect x="527.0" y="164.7" width="24.2" height="10.3" fill="#d62b27"/>
<rect x="551.2" y="169.0" width="1.5" height="6.0" fill="#d62b27"/>
<rect x="529.9" y="175.0" width="20.6" height="3.6" fill="#d62b27"/>
<rect x="531.4" y="178.6" width="14.7" height="3.0" fill="#ea7450"/>
<rect x="524.2" y="172.0" width="2.8" height="4.0" fill="#f9b887"/>
<rect x="518.7" y="192.6" width="3.0" height="2.9" fill="#ea7450"/>
<rect x="521.7" y="199.5" width="2.8" height="2.0" fill="#f9b887"/>
<rect x="525.5" y="174.2" width="3.0" height="2.8" fill="#f9b887"/>
<rect x="465.5" y="221.0" width="11.8" height="11.0" fill="#ea7450"/>
<rect x="467.7" y="221.7" width="5.2" height="6.7" fill="#d62b27"/>
<rect x="474.7" y="225.0" width="4.0" height="5.0" fill="#f9b887"/>
<rect x="559.3" y="169.0" width="10.4" height="11.8" fill="#8ba3c1"/>
<rect x="562.2" y="172.0" width="9.6" height="4.4" fill="#8ba3c1"/>
<rect x="560.7" y="169.0" width="4.5" height="5.0" fill="#4672b5"/>
<rect x="560.7" y="176.4" width="7.0" height="4.4" fill="#4672b5"/>
<rect x="557.7" y="181.0" width="3.0" height="3.0" fill="#b9c7ba"/>
<rect x="540.2" y="184.7" width="6.0" height="4.3" fill="#4672b5"/>
<rect x="535.7" y="189.0" width="13.0" height="5.3" fill="#4672b5"/>
<rect x="534.0" y="194.3" width="12.7" height="6.5" fill="#4672b5"/>
<rect x="534.3" y="200.8" width="4.4" height="2.7" fill="#8ba3c1"/>
<rect x="546.2" y="186.0" width="2.5" height="3.0" fill="#8ba3c1"/>
<rect x="498.7" y="174.5" width="14.0" height="2.8" fill="#b9c7ba"/>
<rect x="492.9" y="177.3" width="11.8" height="4.4" fill="#4672b5"/>
<rect x="489.9" y="181.7" width="17.7" height="7.3" fill="#4672b5"/>
<rect x="487.7" y="189.0" width="18.4" height="6.0" fill="#4672b5"/>
<rect x="504.7" y="178.8" width="5.8" height="10.2" fill="#8ba3c1"/>
<rect x="507.6" y="184.7" width="4.4" height="4.3" fill="#b9c7ba"/>
<rect x="495.7" y="174.3" width="9.0" height="2.9" fill="#8ba3c1"/>
<rect x="488.7" y="217.0" width="22.0" height="3.0" fill="#b9c7ba"/>
<rect x="506.7" y="218.8" width="9.5" height="5.9" fill="#4672b5"/>
<rect x="516.2" y="218.8" width="5.1" height="5.9" fill="#8ba3c1"/>
<rect x="498.7" y="220.0" width="8.0" height="4.7" fill="#4672b5"/>
<rect x="487.6" y="224.7" width="28.6" height="5.9" fill="#4672b5"/>
<rect x="516.2" y="224.7" width="7.5" height="3.3" fill="#4672b5"/>
<rect x="486.1" y="230.6" width="20.6" height="5.8" fill="#4672b5"/>
<rect x="485.4" y="236.4" width="18.3" height="10.3" fill="#4672b5"/>
<rect x="483.2" y="246.7" width="18.3" height="7.3" fill="#4672b5"/>
<rect x="481.7" y="254.0" width="17.6" height="6.0" fill="#4672b5"/>
<rect x="474.7" y="260.0" width="24.6" height="12.0" fill="#4672b5"/>
<rect x="477.7" y="272.0" width="9.5" height="5.0" fill="#4672b5"/>
<rect x="488.7" y="222.0" width="10.0" height="2.7" fill="#b9c7ba"/>
<rect x="448.7" y="250.0" width="6.0" height="3.0" fill="#8ba3c1"/>
<rect x="443.2" y="253.0" width="9.5" height="7.3" fill="#4672b5"/>
<rect x="440.2" y="260.3" width="13.2" height="7.3" fill="#4672b5"/>
<rect x="438.7" y="267.6" width="14.7" height="5.9" fill="#4672b5"/>
<rect x="427.0" y="273.5" width="27.9" height="5.9" fill="#4672b5"/>
<rect x="412.3" y="279.4" width="45.4" height="7.3" fill="#4672b5"/>
<rect x="410.7" y="286.7" width="34.0" height="5.9" fill="#4672b5"/>
<rect x="415.2" y="292.6" width="23.5" height="4.4" fill="#4672b5"/>
<rect x="416.7" y="297.0" width="17.6" height="4.4" fill="#4672b5"/>
<rect x="452.7" y="251.0" width="3.0" height="11.0" fill="#b9c7ba"/>
</g>
<polyline points="439.2,160.1 438.3,162.8 436.7,165.2 435.6,167.7 434.2,170.1 433.3,172.7 432.7,175.6 432.5,178.6 433.1,181.6 434.1,184.5 432.5,186.8 430.7,189.0 427.4,191.7 426.3,193.7 425.8,195.9 423.7,197.5 421.6,199.2 419.8,202.0 417.4,204.2" fill="none" stroke="#a6a6a6" stroke-width="0.55"/>
<polyline points="455.1,156.0 455.3,158.5 455.9,161.0 455.9,163.5 454.9,165.6 454.4,167.9 454.3,170.2 455.4,172.4 456.4,174.7 457.6,176.9 460.3,178.8 462.6,181.1 465.1,180.8 467.6,180.9 470.2,181.3 472.7,181.1 475.3,180.4 478.1,180.8 480.7,180.0 483.4,180.1 486.1,180.7 488.7,181.5 490.9,180.1 493.5,179.7 495.7,178.4" fill="none" stroke="#a6a6a6" stroke-width="0.55"/>
<polyline points="378.8,195.9 378.3,198.1 377.1,200.1 379.6,202.2 382.2,204.2 384.6,203.5 387.2,203.6 389.7,203.1 392.2,202.6 394.7,202.9 397.2,203.5 399.8,203.9 402.3,204.2 405.1,203.5 407.9,203.7 410.7,203.4 412.9,203.8 415.2,204.0 417.4,204.2" fill="none" stroke="#a6a6a6" stroke-width="0.55"/>
<polyline points="417.4,204.2 419.4,206.0 421.9,207.0 424.1,208.4 426.3,209.2 428.5,209.8 430.8,210.1 433.5,212.0 435.8,214.3 437.1,217.1 437.5,220.2 439.5,221.9 441.7,223.5 444.1,222.6 446.7,222.3 449.2,221.9 452.2,221.8 455.1,221.0 456.0,218.6 455.9,215.9 456.8,213.5 456.1,210.7 455.9,207.9 455.9,205.1 457.1,203.1 457.2,200.7 458.2,198.7 459.3,196.7 459.8,194.1 461.0,191.7 461.0,189.0 461.8,186.4 461.9,183.7 462.6,181.1" fill="none" stroke="#a6a6a6" stroke-width="0.55"/>
<polyline points="441.7,223.5 441.5,225.8 441.9,228.0 442.5,230.2 441.0,232.6 440.0,235.3 439.9,237.8 439.2,240.3 441.0,242.7 442.5,245.3 444.0,248.0 445.9,250.4" fill="none" stroke="#a6a6a6" stroke-width="0.55"/>
<polyline points="389.7,233.9 392.3,233.7 394.7,232.7 396.7,233.7 398.5,235.2 400.6,236.1 402.9,236.0 405.0,234.8 407.3,234.4 409.5,235.0 411.8,234.8 414.0,235.3 416.7,236.7 419.1,238.6 421.3,241.0 423.2,243.6 425.0,245.0 427.3,245.6 429.1,247.0 430.7,248.8 432.5,250.2 434.1,252.0 436.7,255.0 438.5,256.8 439.7,259.0 442.7,262.0" fill="none" stroke="#a6a6a6" stroke-width="0.55"/>
<polyline points="500.4,223.5 502.9,224.9 505.5,226.0 505.9,228.2 507.1,230.2 509.1,231.2 510.2,233.3 512.2,234.4 514.8,233.9 517.2,232.7 519.6,231.4 522.2,231.0 524.5,230.8 526.7,230.2 528.9,229.4 531.0,228.3 533.5,228.2 535.6,226.9 538.2,228.8 540.7,231.0 542.9,230.7 545.2,230.6 547.4,230.2 549.6,230.7 551.8,231.0 554.1,231.0 555.6,228.4 557.4,226.0 559.6,224.9 561.7,223.5 564.1,222.7 566.8,221.6 569.7,221.0 572.5,220.1 574.6,219.2 576.9,218.9 579.2,218.5" fill="none" stroke="#a6a6a6" stroke-width="0.55"/>
<polyline points="555.7,171.8 555.6,174.9 554.9,178.0 554.0,180.3 552.7,182.5 552.3,185.0 551.3,187.5 550.7,190.0 551.5,193.0 552.2,196.0 553.2,198.4 554.7,201.2 555.8,204.2 558.2,205.6 560.0,207.9 562.5,209.2 563.4,211.3 564.9,213.0 565.8,215.1 565.7,217.3 565.6,219.6 565.8,221.8" fill="none" stroke="#a6a6a6" stroke-width="0.55"/>
<polyline points="512.2,234.4 513.8,236.7 514.7,239.4 515.7,242.0 517.3,244.2 519.6,245.8 522.3,246.7 522.7,248.9 523.1,251.1 523.2,253.4 522.9,255.7 522.5,258.0 521.5,260.1 522.0,262.3 522.3,264.5 522.3,266.8" fill="none" stroke="#a6a6a6" stroke-width="0.55"/>
<polyline points="571.5,49.0 573.3,50.6 574.7,52.5 577.2,53.5 579.7,54.5 581.4,56.3 583.2,58.0 583.1,61.1 582.2,64.0 582.9,67.0 583.7,70.0 582.3,72.9 581.7,76.0 582.4,78.5 583.2,81.0 582.4,85.1" fill="none" stroke="#a6a6a6" stroke-width="0.55"/>
<polyline points="611.6,54.8 613.7,58.5 616.7,58.8 619.7,58.2 622.4,57.7 625.2,57.4" fill="none" stroke="#a6a6a6" stroke-width="0.55"/>
<polyline points="626.3,57.6 626.2,60.3 626.7,63.0 626.0,65.6 624.7,68.0 625.8,70.5 627.7,72.5 630.7,73.0 633.7,73.5 636.0,72.9 638.4,72.6 640.7,72.0 643.8,72.4 646.7,73.5 649.3,74.0 651.8,75.0" fill="none" stroke="#a6a6a6" stroke-width="0.55"/>
<polyline points="609.2,88.6 610.9,86.3 612.7,84.0 615.2,83.9 617.7,83.5 620.3,81.8 622.7,80.0 625.3,79.4 627.7,78.5 628.1,75.5 627.7,72.5" fill="none" stroke="#a6a6a6" stroke-width="0.55"/>
<polyline points="580.2,96.5 580.7,100.0 581.6,102.5 581.6,105.2 584.1,108.5 582.9,110.9 582.4,113.6 580.4,114.9 578.7,116.5" fill="none" stroke="#a6a6a6" stroke-width="0.55"/>
<polyline points="601.0,93.8 598.9,94.6 596.7,95.0 594.5,97.3 591.7,99.0 588.6,99.8 585.7,101.0 583.1,100.8 580.7,100.0" fill="none" stroke="#a6a6a6" stroke-width="0.55"/>
<polyline points="618.7,96.0 616.9,97.8 615.7,100.0 616.7,102.4 617.2,105.0 616.3,107.7 614.7,110.0 615.6,112.9 615.7,116.0 615.0,118.2 614.4,120.5 614.2,122.9 614.4,126.0 615.5,128.8 617.6,130.4 619.9,131.7 619.4,134.6 619.1,137.6 620.8,139.9 622.8,142.0 621.3,145.0" fill="none" stroke="#a6a6a6" stroke-width="0.55"/>
<polyline points="614.7,110.0 611.6,110.2 608.7,111.0 604.7,109.5" fill="none" stroke="#a6a6a6" stroke-width="0.55"/>
<polyline points="614.2,122.9 611.6,124.7 608.7,126.0 606.1,125.6 603.7,124.5 601.8,125.8 599.7,127.0" fill="none" stroke="#a6a6a6" stroke-width="0.55"/>
<polyline points="575.2,131.5 578.0,131.0 580.7,130.0 583.1,128.7 585.7,128.0 588.3,126.9 591.2,126.5 593.7,124.9 596.4,123.6 596.4,125.8 597.1,128.0 597.1,130.2 599.3,130.8 601.5,130.8 603.7,131.0 605.9,132.1 608.1,133.2 608.7,136.1 609.6,139.0 608.1,140.8 606.7,142.7 604.2,142.4 601.8,141.9 599.3,142.0 597.1,142.3 594.9,143.0 592.7,143.5 591.7,146.2 589.9,148.5" fill="none" stroke="#a6a6a6" stroke-width="0.55"/>
<polyline points="537.7,162.0 539.9,161.4 541.7,160.0 543.9,161.2 545.7,163.0 544.4,164.9 543.7,167.0 541.2,166.5 538.7,166.0 537.7,162.0" fill="none" stroke="#a6a6a6" stroke-width="0.55"/>
<polyline points="554.9,160.0 557.8,159.0 560.7,158.0 563.8,158.4 566.7,159.5 568.9,161.6 571.7,163.0 574.5,163.8 577.3,164.4" fill="none" stroke="#a6a6a6" stroke-width="0.55"/>
<polyline points="525.5,152.6 527.4,154.6 528.7,157.0 531.2,158.8 533.7,160.5 537.7,162.0" fill="none" stroke="#a6a6a6" stroke-width="0.55"/>
<polyline points="522.5,156.2 523.6,159.1 524.7,162.0 523.6,165.0 522.7,168.0 523.9,169.9 524.3,172.2 525.7,174.0 526.6,176.2 527.6,178.3 528.9,180.3" fill="none" stroke="#a6a6a6" stroke-width="0.55"/>
<polyline points="464.3,181.0 463.7,183.9 462.2,186.5 462.0,189.2 461.0,191.7" fill="none" stroke="#a6a6a6" stroke-width="0.55"/>
<polyline points="486.2,184.5 484.9,187.4 484.5,190.6 484.9,192.8 485.4,195.0 483.8,196.6 481.9,197.7" fill="none" stroke="#a6a6a6" stroke-width="0.55"/>
<polyline points="486.2,199.4 487.6,201.8 489.7,203.8 492.2,204.7 494.2,206.4 496.7,207.3 498.8,205.4 501.1,203.8 502.6,201.7 503.7,199.4 504.5,196.8 505.5,194.2" fill="none" stroke="#a6a6a6" stroke-width="0.55"/>
<polyline points="488.0,203.8 489.7,206.0 491.5,208.2 492.7,210.4 494.1,212.5 491.5,216.0" fill="none" stroke="#a6a6a6" stroke-width="0.55"/>
<polyline points="455.9,205.1 458.3,205.3 460.4,206.5 462.7,207.0 465.0,206.7 467.3,205.9 469.7,206.0 472.2,206.6 474.2,208.4 476.7,209.0 478.4,210.4 480.2,211.9 481.7,213.5 481.1,215.7 480.5,218.0 480.5,220.3" fill="none" stroke="#a6a6a6" stroke-width="0.55"/>
<polyline points="455.1,221.0 456.3,223.0 458.4,224.2 459.7,226.0 462.7,227.0 465.7,228.0 468.6,226.9 471.7,226.5 474.4,227.3 476.7,229.0 477.9,226.9 479.7,225.3" fill="none" stroke="#a6a6a6" stroke-width="0.55"/>
<polyline points="445.9,250.4 446.5,253.2 447.2,256.0 449.0,258.2 451.2,260.0 454.7,262.5 455.9,265.2 456.7,268.0" fill="none" stroke="#a6a6a6" stroke-width="0.55"/>
<polyline points="500.4,223.5 498.5,224.7 496.7,226.0 494.3,228.2 491.7,230.0 490.2,231.9 488.8,233.8 487.7,236.0 484.7,235.0" fill="none" stroke="#a6a6a6" stroke-width="0.55"/>
<polyline points="565.8,221.8 564.1,222.7" fill="none" stroke="#a6a6a6" stroke-width="0.55"/>
<polyline points="596.3,23.9 598.0,25.5 598.3,28.1 597.2,29.6 597.0,31.4 596.1,33.0 595.8,34.8 596.7,36.4 597.5,38.1 599.4,38.6 600.9,39.8 603.4,39.8 605.9,41.5 608.4,43.1 610.1,45.7 610.5,47.6 611.0,49.5 611.3,51.3 611.0,53.1 611.6,54.8 614.7,54.4 617.3,55.7 619.9,55.2 622.6,53.5 624.3,53.0 625.6,54.8 626.3,57.6 627.7,59.4 628.7,61.4 630.2,60.5 631.7,59.6 633.4,59.9 635.2,59.9 637.0,61.4 639.3,61.8 640.7,63.7 642.2,65.5 644.7,65.1 647.2,65.3 647.8,67.1 649.1,68.6 650.3,70.3 651.8,71.7 652.2,74.0 651.9,76.4 651.1,78.2 650.7,80.0 651.1,82.0 650.9,84.0 651.0,86.0 651.8,87.9 650.8,89.3 649.1,90.1 648.1,91.6 646.1,92.1 644.6,93.3 643.0,94.5 642.3,96.4 641.5,98.2 640.9,100.3 639.3,101.8 637.4,102.7 635.3,103.3 633.4,104.3 632.3,106.3 632.3,108.5 633.1,110.3 634.9,111.3 636.2,112.7 637.0,114.7 638.6,116.1 640.0,117.3 640.5,119.2 641.9,120.3 641.3,121.9 641.5,123.8 640.3,125.3 637.9,127.0 637.0,129.2 636.7,131.5 635.3,132.5 633.5,132.8 632.2,134.0 631.2,135.6 631.2,137.8 629.7,139.2 628.6,140.7 627.0,141.8 626.5,143.8 625.1,145.1 624.8,146.8 623.5,148.3 623.4,150.1 624.3,152.1 624.3,154.3 624.3,157.7 625.0,159.4 625.9,161.0 625.7,162.8 624.2,164.2 624.3,166.1 622.8,164.9 620.9,164.4 619.6,162.7 618.4,161.0 616.0,160.3 614.2,158.5 612.7,160.0 610.9,161.0 610.3,162.7 609.2,164.2 609.2,166.1 608.9,168.0 607.5,169.4 606.7,171.1 607.2,172.9 608.3,174.5 606.2,174.8 604.2,175.3 602.4,175.1 600.8,175.8 599.1,176.1 596.7,176.8 594.9,178.6 593.9,180.2 593.1,181.9 592.4,183.7 591.4,185.7 590.1,187.5 589.1,189.5 587.9,190.8 586.4,191.8 585.2,193.0 583.7,194.7 581.9,196.0 581.4,198.2 580.1,200.0 580.2,202.0 579.3,203.9 579.2,205.9 579.6,207.9 580.4,209.8 580.9,211.8 581.1,214.4 580.1,216.8 579.3,219.2 579.2,221.8 577.9,223.3 577.0,224.9 576.7,226.9 575.2,228.0 574.1,229.3 573.4,231.0 572.3,232.5 572.2,234.4 571.7,236.1 571.5,238.5 571.0,240.8 569.3,241.3 568.0,242.7 566.3,243.2 564.6,243.6 563.0,244.4 561.7,245.6 560.0,246.4 559.1,248.0 557.9,249.3 556.1,248.4 554.2,248.7 552.3,248.5 551.0,249.6 549.4,250.4 548.2,251.6 546.7,253.5 546.5,255.9 544.8,256.6 543.6,257.9 542.5,259.3 541.1,260.7 539.0,260.8 537.4,261.8 534.9,262.2 532.4,262.6 530.7,263.3 528.9,263.8 527.4,265.1 525.8,266.0 523.9,265.9 522.3,266.8 520.9,268.1 519.1,268.8 517.3,269.3 516.5,271.3 516.5,273.5 514.5,275.0 512.3,276.0 510.7,277.9 509.8,280.2 509.5,282.5 508.1,284.4 507.5,286.7 506.0,288.5 507.2,290.6 508.9,292.3 510.7,294.1 511.3,296.6 510.0,298.8 508.9,301.0 507.1,301.4 505.8,302.7 504.3,303.6 502.5,304.2 501.3,305.9 499.3,306.1 497.5,307.2 495.9,308.6 494.1,310.1 492.6,311.9 490.8,313.5 489.2,315.3 487.7,317.1 485.9,318.6 483.8,319.2 481.7,319.5 480.9,317.8 479.2,317.0 478.4,318.7 476.7,319.5 475.0,318.5 474.9,316.3 473.3,315.3 471.3,314.4 469.9,312.8 468.6,311.3 467.9,309.6 467.4,307.7 468.6,305.8 469.1,303.6 470.7,302.6 470.8,300.4 472.5,299.4 473.5,297.9 474.3,296.3 475.8,295.2 477.3,293.8 478.9,292.6 480.8,291.8 482.1,290.2 482.9,288.3 484.2,286.8 484.9,284.6 486.4,282.9 487.5,280.9 486.7,278.4 487.2,275.9 485.2,275.3 483.7,273.8 482.1,272.6 480.1,272.7 478.4,271.6 477.2,270.0 475.9,268.5 475.0,266.9 474.0,265.4 472.5,264.3" fill="none" stroke="#1c1c1c" stroke-width="1.0" stroke-linejoin="round"/>
<polyline points="415.5,298.5 414.6,296.0 413.5,294.2 413.9,291.9 412.9,290.1 412.5,288.3 411.2,286.9 410.8,285.1 410.1,283.4 410.1,281.3 410.5,279.3 410.8,277.3 410.5,275.2 409.5,273.7 409.0,272.0 409.7,270.1 408.8,268.5 407.9,266.9 407.5,265.0 406.3,263.5 405.3,261.6 405.7,259.6 405.5,257.6 404.9,255.8 403.4,254.4 402.9,252.6 401.6,251.0 399.9,249.9 397.9,249.2 395.7,249.0 393.8,248.1 392.1,246.7 390.9,244.7 389.7,242.8 389.4,240.9 387.9,239.5 387.2,237.8 388.1,235.6 389.7,233.9 388.0,232.1 386.4,230.2 385.4,228.4 385.4,226.4 385.5,224.4 384.3,222.5 383.3,220.5 382.2,218.5 380.6,217.7 379.2,216.5 378.0,215.1 376.3,213.7 375.2,211.8 373.8,210.1 372.4,208.9 371.0,207.7 370.4,205.9 371.2,204.0 371.1,202.0 371.3,200.1 373.1,199.0 374.6,197.5 376.6,196.4 378.8,196.2 379.9,194.7 379.7,192.8 378.8,190.8 377.1,189.5 377.0,187.3 378.0,185.3 379.5,183.9 381.3,182.8 383.2,181.8 384.7,180.3 386.3,179.1 387.9,177.9 388.9,176.1 390.5,175.2 392.2,174.4 394.1,174.0 395.6,172.7 395.4,171.0 394.7,169.4 393.6,167.4 393.1,165.2 393.5,163.5 394.2,161.9 393.9,160.1 395.6,159.4 396.7,157.9 398.1,156.8 400.6,156.5 403.1,156.0 404.7,157.0 405.6,158.5 406.5,160.1 408.7,159.7 410.7,158.5 411.7,157.0 412.5,155.4 414.0,154.3 415.2,152.6 416.5,151.1 417.4,149.2 419.0,148.3 420.1,146.9 421.6,145.9 423.7,146.2 425.8,146.7 427.2,147.8 428.3,149.3 429.9,150.1 431.6,148.4 433.3,146.7 434.6,145.2 436.1,143.9 437.5,142.5 438.9,143.9 439.2,145.9 440.0,147.7 439.3,149.7 439.1,151.6 440.0,153.4 439.6,155.6 439.6,157.9 439.2,160.1 440.4,158.0 442.3,156.6 444.2,155.1 446.1,153.5 447.9,155.0 450.3,155.2 452.5,156.0 454.9,156.1 456.3,155.0 458.0,154.2 459.1,152.7 460.5,151.4 462.4,150.8 464.0,149.8 465.4,147.7 465.7,145.2 467.7,144.9 469.7,144.4 471.1,143.3 472.3,141.9 473.9,141.1 474.6,139.2 475.8,137.5 475.1,135.2 476.4,133.5 477.9,132.1 479.0,130.4 479.8,128.5 481.8,129.4 484.0,129.3 485.5,130.4 487.3,131.0 487.5,132.8 488.4,134.3 489.0,136.0 490.0,137.7 491.3,139.3 492.3,141.1 493.2,143.3 492.4,145.6 493.2,147.8 494.9,147.0 496.5,146.1 498.5,147.5 499.9,149.5 501.6,150.9 503.2,152.2 504.9,153.6 506.6,154.0 508.3,154.5 509.9,155.3 512.0,155.0 514.1,154.5 515.4,156.0 516.8,157.4 518.3,158.7 520.4,157.4 522.5,156.2 523.1,154.4 524.5,153.2 525.9,152.0 527.0,150.5 528.8,149.8 530.1,148.6 530.6,146.4 530.5,144.1 530.1,141.9 531.3,139.9 531.7,137.7 531.5,135.9 530.1,134.5 530.3,132.5 529.2,131.0 530.3,129.1 530.3,126.8 531.7,125.1 532.2,122.8 533.4,120.9 535.1,119.3 536.5,117.5 537.0,115.2 538.4,113.4 538.3,111.6 539.4,110.1 539.5,108.3 540.1,106.7 540.2,104.4 541.0,102.4 542.1,100.5 543.2,97.5 545.3,96.3 547.4,95.0 549.2,94.2 551.1,94.0 553.1,94.3 554.9,93.7 556.9,93.8 558.9,93.8 560.8,94.2 562.5,93.4 563.9,92.1 565.8,91.9 564.8,90.2 564.0,88.4 562.5,87.1 560.9,85.9 559.8,84.2 560.1,81.9 561.5,80.0 561.3,76.7 561.3,74.2 560.2,72.0 558.8,70.1 557.3,68.3 558.9,65.8 558.1,63.8 558.1,61.6 557.0,60.2 555.6,59.1 556.4,57.5 556.4,55.7 557.2,54.0 558.9,53.2 558.1,49.9 558.9,48.1 560.6,47.3 562.6,46.4 564.8,46.5 566.4,47.6 568.2,48.2 571.5,49.0 572.3,47.3 574.0,46.4 574.9,44.8 576.7,44.2 578.2,43.1 580.3,41.9 582.4,40.6 583.6,39.2 585.6,38.9 586.6,37.3 588.2,35.8 589.1,33.9 590.8,32.3 592.5,30.6 593.0,28.4 594.2,26.4 596.3,23.9" fill="none" stroke="#1c1c1c" stroke-width="1.0" stroke-linejoin="round"/>
<polyline points="633.4,104.3 631.2,103.5 629.0,104.0 626.9,103.0 624.6,103.3 622.7,102.3 621.7,100.4 620.2,99.3 620.1,97.2 618.7,96.0 617.5,94.3 615.8,93.0 613.7,92.1 611.4,91.6 610.1,90.3 609.2,88.6 607.9,87.0 606.3,85.7 604.5,85.2 602.6,85.0 600.4,86.2 598.3,87.6 596.5,87.5 594.9,86.6 593.3,85.9 591.3,85.5 589.5,84.5 587.5,84.2 585.7,83.8 584.0,84.2 582.4,85.1 581.5,87.1 580.7,89.2 581.6,90.9 582.4,92.6 581.6,94.7 580.2,96.5 579.2,98.0 577.4,98.5 575.3,98.6 573.5,97.4 571.5,96.8 569.9,95.8 568.5,94.5 567.6,92.7 565.8,91.9" fill="none" stroke="#1c1c1c" stroke-width="1.0" stroke-linejoin="round"/>
<polyline points="575.7,138.4 577.3,139.3 578.4,140.7 579.8,141.8 581.6,143.1 583.1,144.7 584.9,146.0 586.5,147.0 588.5,147.1 589.9,148.5 591.7,150.3 592.4,152.7 591.1,154.1 590.7,156.0 589.1,156.9 587.5,157.5 585.7,157.7 583.6,158.9 582.4,161.0 580.7,162.2 578.7,162.9 577.3,164.4 576.8,166.1 576.0,167.7 575.7,169.4 577.5,169.4 579.0,170.4 580.6,171.2 582.4,171.1 584.3,172.0 586.1,173.1 588.2,173.6 589.4,174.9 591.4,175.4 592.4,177.0 592.5,179.2 593.3,181.2" fill="none" stroke="#1c1c1c" stroke-width="1.0" stroke-linejoin="round"/>
<polyline points="575.7,169.4 574.2,170.6 572.5,171.6 570.6,171.9 568.7,173.2 567.0,174.6 564.8,175.3 562.8,175.6 560.8,174.9 558.9,174.5 558.2,172.1 556.4,170.3" fill="none" stroke="#1c1c1c" stroke-width="1.0" stroke-linejoin="round"/>
<polyline points="493.2,147.8 493.6,149.8 494.0,151.8 494.9,153.6 493.3,155.0 492.3,157.0 492.1,159.0 492.8,160.8 493.0,162.8 494.0,164.5 494.7,166.3 494.0,168.2 494.0,170.0 493.7,171.8 494.5,173.4 494.5,175.2 495.9,176.6 495.7,178.4 496.3,180.3 497.1,182.2 497.3,184.2 498.9,185.6 500.6,187.1 502.3,188.4 504.8,189.1 506.5,191.0" fill="none" stroke="#1c1c1c" stroke-width="1.0" stroke-linejoin="round"/>
<polyline points="480.2,197.8 481.7,196.2 484.2,195.9 485.0,197.2 483.2,198.8 481.2,199.0 480.2,197.8" fill="none" stroke="#1c1c1c" stroke-width="1.0" stroke-linejoin="round"/>
<polygon points="619.2,33.9 615.2,37.2 612.2,41.8 610.4,47.5 609.1,53.6 607.2,59.8 604.7,64.5 603.7,69.0 604.5,69.5 606.7,65.0 608.5,60.5 610.3,56.3 612.2,51.9 613.9,47.5 615.7,43.1 617.6,38.8 619.2,33.9" fill="#1a6df0" fill-opacity="0.6"/>
<polyline points="619.2,33.9 615.2,37.2 612.2,41.8 610.4,47.5 609.1,53.6 607.2,59.8 604.7,64.5 603.7,69.0 602.7,77.5 601.7,86.3 600.3,90.0 601.9,95.0 603.5,99.4 604.4,103.8 604.4,108.1 603.0,110.6 599.7,110.4 597.0,109.8 591.7,111.4 587.3,113.4 583.8,116.0 581.2,118.3 579.6,122.4 576.1,124.2 573.5,126.4 574.3,130.8 573.9,135.1 571.7,138.2 568.2,139.5 565.6,136.9 563.8,133.4 561.2,131.2 557.7,132.1 554.2,135.1 552.5,138.6 552.4,145.3 553.2,150.0 554.0,155.0 554.0,160.1 554.9,167.7 552.3,171.9 545.6,176.0 537.3,180.2 528.9,184.4 520.5,188.6 515.8,191.0 510.7,194.3 507.9,197.5 510.7,201.9 512.4,206.9 510.7,210.2 505.7,211.9 499.0,213.9 492.3,215.6 485.6,217.8 480.5,220.3 479.7,225.3 482.2,230.4 484.7,235.0 485.9,240.0 484.3,245.1 481.7,250.9 479.2,256.0 475.0,261.0 470.0,266.0 465.0,270.2 460.8,275.2 456.6,281.1 452.4,285.3 445.7,288.6 439.0,292.8 434.0,297.0 431.4,299.4 426.4,303.6 418.8,306.1 412.1,306.9 407.1,307.7" fill="none" stroke="#1a6df0" stroke-width="2.0" stroke-linejoin="round" stroke-linecap="round"/>
<polyline points="619.2,33.9 617.6,38.8 615.7,43.1 613.9,47.5 612.2,51.9 610.3,56.3 608.5,60.5 606.7,65.0 604.5,69.5" fill="none" stroke="#1a6df0" stroke-width="1.25" stroke-linejoin="round" stroke-linecap="round"/>
<polyline points="607.7,60.0 606.7,64.0" fill="none" stroke="#1a6df0" stroke-width="1.25" stroke-linejoin="round" stroke-linecap="round"/>
<polyline points="612.2,73.1 608.7,77.5 605.2,81.5 602.3,85.5" fill="none" stroke="#1a6df0" stroke-width="1.25" stroke-linejoin="round" stroke-linecap="round"/>
<polyline points="601.7,86.3 598.9,87.5 598.3,90.5 600.7,92.0" fill="none" stroke="#1a6df0" stroke-width="1.25" stroke-linejoin="round" stroke-linecap="round"/>
<polyline points="600.4,87.2 598.9,91.0 600.7,96.0" fill="none" stroke="#1a6df0" stroke-width="1.25" stroke-linejoin="round" stroke-linecap="round"/>
<polyline points="581.2,118.3 578.3,116.8 576.1,115.0 573.9,117.6 573.0,122.0 573.5,126.4" fill="none" stroke="#1a6df0" stroke-width="1.25" stroke-linejoin="round" stroke-linecap="round"/>
<polyline points="586.6,115.4 583.1,119.4 579.6,122.4 576.1,124.2 573.5,125.5" fill="none" stroke="#1a6df0" stroke-width="1.25" stroke-linejoin="round" stroke-linecap="round"/>
<polyline points="591.0,111.9 586.6,115.4" fill="none" stroke="#1a6df0" stroke-width="1.25" stroke-linejoin="round" stroke-linecap="round"/>
<polyline points="561.2,131.2 562.5,134.3 564.3,137.8 566.2,140.0" fill="none" stroke="#1a6df0" stroke-width="1.25" stroke-linejoin="round" stroke-linecap="round"/>
<polyline points="557.7,132.1 557.7,134.5 559.5,138.2 560.3,142.0" fill="none" stroke="#1a6df0" stroke-width="1.25" stroke-linejoin="round" stroke-linecap="round"/>
<polyline points="554.2,135.1 555.2,138.5 555.7,143.0 554.7,150.0" fill="none" stroke="#1a6df0" stroke-width="1.25" stroke-linejoin="round" stroke-linecap="round"/>
<polyline points="561.2,131.2 564.2,130.5 566.2,132.5 566.7,136.0" fill="none" stroke="#1a6df0" stroke-width="1.25" stroke-linejoin="round" stroke-linecap="round"/>
<polyline points="554.0,153.4 552.5,160.0 553.3,167.0 549.7,172.5" fill="none" stroke="#1a6df0" stroke-width="1.25" stroke-linejoin="round" stroke-linecap="round"/>
<polyline points="537.3,180.2 528.9,180.3 534.7,179.9 533.1,183.6 528.0,186.1 522.7,186.5" fill="none" stroke="#1a6df0" stroke-width="1.25" stroke-linejoin="round" stroke-linecap="round"/>
<polyline points="528.9,184.4 521.7,186.0 514.7,190.0 507.4,196.8 506.5,192.6 508.7,195.0" fill="none" stroke="#1a6df0" stroke-width="1.25" stroke-linejoin="round" stroke-linecap="round"/>
<polyline points="510.7,210.2 506.7,208.5 502.7,211.0 499.0,213.9" fill="none" stroke="#1a6df0" stroke-width="1.25" stroke-linejoin="round" stroke-linecap="round"/>
<polyline points="505.7,211.9 500.7,210.5 495.7,213.5 492.3,215.6" fill="none" stroke="#1a6df0" stroke-width="1.25" stroke-linejoin="round" stroke-linecap="round"/>
<polyline points="480.5,220.3 482.2,224.0 483.5,229.0 484.7,235.0" fill="none" stroke="#1a6df0" stroke-width="1.25" stroke-linejoin="round" stroke-linecap="round"/>
<polyline points="476.2,259.0 467.4,263.1 460.1,265.2 456.0,270.5 454.9,277.5 456.0,283.5" fill="none" stroke="#1a6df0" stroke-width="1.25" stroke-linejoin="round" stroke-linecap="round"/>
<polyline points="452.4,285.3 447.7,285.0 442.3,287.8 437.3,291.2 439.0,292.8" fill="none" stroke="#1a6df0" stroke-width="1.25" stroke-linejoin="round" stroke-linecap="round"/>
<polyline points="445.7,288.6 442.7,291.0 436.7,294.5 434.0,297.0" fill="none" stroke="#1a6df0" stroke-width="1.25" stroke-linejoin="round" stroke-linecap="round"/>
<polyline points="407.1,307.7 411.3,302.7 415.5,298.5 420.5,296.9 426.4,297.7 431.4,299.4" fill="none" stroke="#1a6df0" stroke-width="1.25" stroke-linejoin="round" stroke-linecap="round"/>
<polyline points="412.1,304.4 418.8,303.6 425.5,301.0 428.7,299.0" fill="none" stroke="#1a6df0" stroke-width="1.25" stroke-linejoin="round" stroke-linecap="round"/>
<text x="580.4" y="61.6" font-size="9.4">Hexian</text>
<text x="607.9" y="62.2" font-size="9.4">Huashan</text>
<text x="555.5" y="75.6" font-size="9.4">Hanshan</text>
<text x="592.8" y="73.1" font-size="9.4">Yushan</text>
<text x="621.9" y="75.5" font-size="9.4">Bowang</text>
<text x="614.8" y="89.4" font-size="9.4">Dangtu</text>
<text x="580.0" y="101.6" font-size="9.4">Jiujiang</text>
<text x="595.1" y="112.0" font-size="9.4">Yijiang</text>
<text x="542.5" y="123.5" font-size="9.4">Wuwei</text>
<text x="580.1" y="123.3" font-size="9.4">Sanshan</text>
<text x="616.0" y="126.5" font-size="9.4">Wuhu</text>
<text x="571.5" y="138.8" font-size="9.4">Fanchang</text>
<text x="556.3" y="151.0" font-size="9.4">Yian</text>
<text x="592.9" y="157.5" font-size="9.4">Nanling</text>
<text x="522.6" y="157.1" font-size="9.4">Tongling</text>
<text x="541.4" y="167.7" font-size="9.4">Tongling</text>
<text x="497.9" y="172.7" font-size="9.4">Zongyang</text>
<text x="552.7" y="195.3" font-size="9.4">Qingyang</text>
<text x="519.5" y="206.5" font-size="9.4">Guichi</text>
<text x="485.7" y="198.5" font-size="9.4">Yixiu</text>
<text x="448.6" y="207.9" font-size="9.4">Huaining</text>
<text x="469.3" y="218.6" font-size="9.4">Daguan</text>
<text x="500.0" y="217.0" font-size="9.4">Yingjiang</text>
<text x="399.8" y="183.6" font-size="9.4">Yuexi</text>
<text x="426.6" y="193.7" font-size="9.4">Qianshan</text>
<text x="452.7" y="163.5" font-size="9.4">Tongcheng</text>
<text x="401.3" y="226.5" font-size="9.4">Taihu</text>
<text x="443.5" y="250.4" font-size="9.4">Wangjiang</text>
<text x="417.5" y="273.6" font-size="9.4">Susong</text>
<text x="481.7" y="269.4" font-size="9.4">Dongzhi</text>
<text x="530.3" y="244.5" font-size="9.4">Shitai</text>
<rect x="353.35" y="15.5" width="314.1" height="316.7" fill="none" stroke="#6a6a6a" stroke-width="1"/>
<line x1="372.8" y1="15.5" x2="372.8" y2="19.1" stroke="#666" stroke-width="0.9"/>
<text x="372.8" y="11.2" font-size="12.5" text-anchor="middle">116°E</text>
<line x1="419.5" y1="15.5" x2="419.5" y2="19.1" stroke="#666" stroke-width="0.9"/>
<text x="419.5" y="11.2" font-size="12.5" text-anchor="middle">116°30'E</text>
<line x1="466.3" y1="15.5" x2="466.3" y2="19.1" stroke="#666" stroke-width="0.9"/>
<text x="466.3" y="11.2" font-size="12.5" text-anchor="middle">117°E</text>
<line x1="513.0" y1="15.5" x2="513.0" y2="19.1" stroke="#666" stroke-width="0.9"/>
<text x="513.0" y="11.2" font-size="12.5" text-anchor="middle">117°30'E</text>
<line x1="559.7" y1="15.5" x2="559.7" y2="19.1" stroke="#666" stroke-width="0.9"/>
<text x="559.7" y="11.2" font-size="12.5" text-anchor="middle">118°E</text>
<line x1="606.5" y1="15.5" x2="606.5" y2="19.1" stroke="#666" stroke-width="0.9"/>
<text x="606.5" y="11.2" font-size="12.5" text-anchor="middle">118°30'E</text>
<line x1="653.2" y1="15.5" x2="653.2" y2="19.1" stroke="#666" stroke-width="0.9"/>
<text x="653.2" y="11.2" font-size="12.5" text-anchor="middle">119°E</text>
<line x1="353.35" y1="59.7" x2="356.95000000000005" y2="59.7" stroke="#777" stroke-width="0.9"/>
<text transform="translate(349.3,59.7) rotate(-90) scale(1,1.04)" font-size="13" text-anchor="middle">32°N</text>
<line x1="353.35" y1="116.2" x2="356.95000000000005" y2="116.2" stroke="#777" stroke-width="0.9"/>
<text transform="translate(349.3,116.2) rotate(-90) scale(1,1.04)" font-size="13" text-anchor="middle">31°30'N</text>
<line x1="353.35" y1="172.7" x2="356.95000000000005" y2="172.7" stroke="#777" stroke-width="0.9"/>
<text transform="translate(349.3,172.7) rotate(-90) scale(1,1.04)" font-size="13" text-anchor="middle">31°N</text>
<line x1="353.35" y1="229.2" x2="356.95000000000005" y2="229.2" stroke="#777" stroke-width="0.9"/>
<text transform="translate(349.3,229.2) rotate(-90) scale(1,1.04)" font-size="13" text-anchor="middle">30°30'N</text>
<line x1="353.35" y1="285.7" x2="356.95000000000005" y2="285.7" stroke="#777" stroke-width="0.9"/>
<text transform="translate(349.3,285.7) rotate(-90) scale(1,1.04)" font-size="13" text-anchor="middle">30°N</text>
<text x="362.8" y="36.2" font-size="11.2">(b)Deterioration of vegetation coverage</text>
<polyline points="579.2,310 579.2,314 609.7,314 609.7,310" fill="none" stroke="#333" stroke-width="0.8"/>
<text x="579.2" y="306" font-size="12.5" text-anchor="middle">0</text>
<text x="602.7" y="306" font-size="12.5">30</text>
<text x="617.7" y="306" font-size="12.5">km</text>
</g>
<text x="15.0" y="351.9" font-size="14.7" font-weight="bold" fill="#000">Legend</text>
<rect x="14.4" y="358.4" width="19" height="9.2" fill="#4472b6"/>
<text x="39.4" y="367.4" font-size="13.1">Cold Spot-99% Confidence</text>
<rect x="14.4" y="373.6" width="19" height="9.2" fill="#869ebe"/>
<text x="39.4" y="382.4" font-size="13.1">Cold Spot-95% Confidence</text>
<rect x="185.0" y="358.4" width="19" height="9.2" fill="#b4c3b6"/>
<text x="210.4" y="367.4" font-size="13.1">Cold Spot-90% Confidence</text>
<rect x="185.0" y="373.6" width="19" height="9.2" fill="#f2f3ec"/>
<text x="210.4" y="382.4" font-size="13.1">Not Significant</text>
<rect x="356.0" y="358.4" width="19" height="9.2" fill="#f8b483"/>
<text x="381.0" y="367.4" font-size="13.1">Hot Spot-90% Confidence</text>
<rect x="356.0" y="373.6" width="19" height="9.2" fill="#e8714e"/>
<text x="381.0" y="382.4" font-size="13.1">Hot Spot-95% Confidence</text>
<rect x="521.0" y="358.4" width="19" height="9.2" fill="#d62a28"/>
<text x="545.7" y="367.4" font-size="13.1">Hot Spot-99% Confidence</text>
</svg></body></html>
